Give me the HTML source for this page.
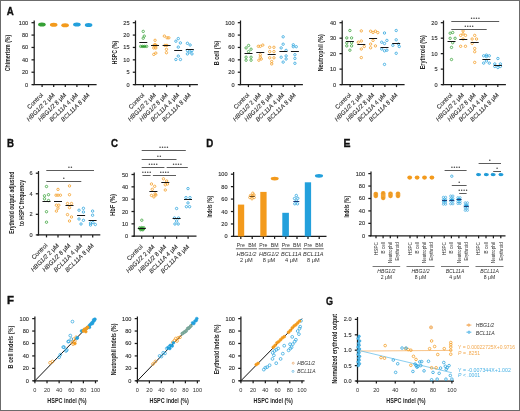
<!DOCTYPE html>
<html><head><meta charset="utf-8"><style>
html,body{margin:0;padding:0;background:#fff;width:520px;height:411px;overflow:hidden}
svg{display:block;will-change:transform}
text{font-family:"Liberation Sans",sans-serif}
</style></head><body>
<svg width="520" height="411" viewBox="0 0 520 411">
<rect x="0" y="0" width="520" height="411" fill="#fff"/>
<text x="6.8" y="14.6" font-size="10.6" font-weight="bold" fill="#111" stroke="#111" stroke-width="0.35" textLength="7.0" lengthAdjust="spacingAndGlyphs">A</text>
<line x1="34.2" y1="20.5" x2="34.2" y2="85.1" stroke="#1c1c1c" stroke-width="1.25"/>
<line x1="31.5" y1="84.6" x2="34.2" y2="84.6" stroke="#1c1c1c" stroke-width="1.25"/>
<text x="28.2" y="86.6" font-size="5.6" text-anchor="end" fill="#2e2e2e" stroke="#2e2e2e" stroke-width="0.12">0</text>
<line x1="31.5" y1="72.22" x2="34.2" y2="72.22" stroke="#1c1c1c" stroke-width="1.25"/>
<text x="28.2" y="74.22" font-size="5.6" text-anchor="end" fill="#2e2e2e" stroke="#2e2e2e" stroke-width="0.12">20</text>
<line x1="31.5" y1="59.84" x2="34.2" y2="59.84" stroke="#1c1c1c" stroke-width="1.25"/>
<text x="28.2" y="61.84" font-size="5.6" text-anchor="end" fill="#2e2e2e" stroke="#2e2e2e" stroke-width="0.12">40</text>
<line x1="31.5" y1="47.46" x2="34.2" y2="47.46" stroke="#1c1c1c" stroke-width="1.25"/>
<text x="28.2" y="49.46" font-size="5.6" text-anchor="end" fill="#2e2e2e" stroke="#2e2e2e" stroke-width="0.12">60</text>
<line x1="31.5" y1="35.08" x2="34.2" y2="35.08" stroke="#1c1c1c" stroke-width="1.25"/>
<text x="28.2" y="37.08" font-size="5.6" text-anchor="end" fill="#2e2e2e" stroke="#2e2e2e" stroke-width="0.12">80</text>
<line x1="31.5" y1="22.7" x2="34.2" y2="22.7" stroke="#1c1c1c" stroke-width="1.25"/>
<text x="28.2" y="24.7" font-size="5.6" text-anchor="end" fill="#2e2e2e" stroke="#2e2e2e" stroke-width="0.12">100</text>
<line x1="32.7" y1="84.6" x2="96.6" y2="84.6" stroke="#1c1c1c" stroke-width="1.25"/>
<line x1="42.1" y1="84.6" x2="42.1" y2="87.1" stroke="#1c1c1c" stroke-width="1.25"/>
<line x1="53.7" y1="84.6" x2="53.7" y2="87.1" stroke="#1c1c1c" stroke-width="1.25"/>
<line x1="65.3" y1="84.6" x2="65.3" y2="87.1" stroke="#1c1c1c" stroke-width="1.25"/>
<line x1="76.9" y1="84.6" x2="76.9" y2="87.1" stroke="#1c1c1c" stroke-width="1.25"/>
<line x1="88.5" y1="84.6" x2="88.5" y2="87.1" stroke="#1c1c1c" stroke-width="1.25"/>
<text transform="translate(43.5,95.5) rotate(-45)" font-size="6.1" text-anchor="end" fill="#2a2a2a" stroke="#2a2a2a" stroke-width="0.1">Control</text>
<text transform="translate(55.1,95.5) rotate(-45)" font-size="6.1" text-anchor="end" fill="#2a2a2a" stroke="#2a2a2a" stroke-width="0.1"><tspan font-style="italic">HBG1/2</tspan> 2 μM</text>
<text transform="translate(66.7,95.5) rotate(-45)" font-size="6.1" text-anchor="end" fill="#2a2a2a" stroke="#2a2a2a" stroke-width="0.1"><tspan font-style="italic">HBG1/2</tspan> 8 μM</text>
<text transform="translate(78.3,95.5) rotate(-45)" font-size="6.1" text-anchor="end" fill="#2a2a2a" stroke="#2a2a2a" stroke-width="0.1"><tspan font-style="italic">BCL11A</tspan> 4 μM</text>
<text transform="translate(89.9,95.5) rotate(-45)" font-size="6.1" text-anchor="end" fill="#2a2a2a" stroke="#2a2a2a" stroke-width="0.1"><tspan font-style="italic">BCL11A</tspan> 8 μM</text>
<line x1="135.5" y1="20.5" x2="135.5" y2="85.1" stroke="#1c1c1c" stroke-width="1.25"/>
<line x1="132.8" y1="84.6" x2="135.5" y2="84.6" stroke="#1c1c1c" stroke-width="1.25"/>
<text x="129.5" y="86.6" font-size="5.6" text-anchor="end" fill="#2e2e2e" stroke="#2e2e2e" stroke-width="0.12">0</text>
<line x1="132.8" y1="72.22" x2="135.5" y2="72.22" stroke="#1c1c1c" stroke-width="1.25"/>
<text x="129.5" y="74.22" font-size="5.6" text-anchor="end" fill="#2e2e2e" stroke="#2e2e2e" stroke-width="0.12">5</text>
<line x1="132.8" y1="59.84" x2="135.5" y2="59.84" stroke="#1c1c1c" stroke-width="1.25"/>
<text x="129.5" y="61.84" font-size="5.6" text-anchor="end" fill="#2e2e2e" stroke="#2e2e2e" stroke-width="0.12">10</text>
<line x1="132.8" y1="47.46" x2="135.5" y2="47.46" stroke="#1c1c1c" stroke-width="1.25"/>
<text x="129.5" y="49.46" font-size="5.6" text-anchor="end" fill="#2e2e2e" stroke="#2e2e2e" stroke-width="0.12">15</text>
<line x1="132.8" y1="35.08" x2="135.5" y2="35.08" stroke="#1c1c1c" stroke-width="1.25"/>
<text x="129.5" y="37.08" font-size="5.6" text-anchor="end" fill="#2e2e2e" stroke="#2e2e2e" stroke-width="0.12">20</text>
<line x1="132.8" y1="22.7" x2="135.5" y2="22.7" stroke="#1c1c1c" stroke-width="1.25"/>
<text x="129.5" y="24.7" font-size="5.6" text-anchor="end" fill="#2e2e2e" stroke="#2e2e2e" stroke-width="0.12">25</text>
<line x1="134" y1="84.6" x2="197.9" y2="84.6" stroke="#1c1c1c" stroke-width="1.25"/>
<line x1="143.4" y1="84.6" x2="143.4" y2="87.1" stroke="#1c1c1c" stroke-width="1.25"/>
<line x1="155" y1="84.6" x2="155" y2="87.1" stroke="#1c1c1c" stroke-width="1.25"/>
<line x1="166.6" y1="84.6" x2="166.6" y2="87.1" stroke="#1c1c1c" stroke-width="1.25"/>
<line x1="178.2" y1="84.6" x2="178.2" y2="87.1" stroke="#1c1c1c" stroke-width="1.25"/>
<line x1="189.8" y1="84.6" x2="189.8" y2="87.1" stroke="#1c1c1c" stroke-width="1.25"/>
<text transform="translate(144.8,95.5) rotate(-45)" font-size="6.1" text-anchor="end" fill="#2a2a2a" stroke="#2a2a2a" stroke-width="0.1">Control</text>
<text transform="translate(156.4,95.5) rotate(-45)" font-size="6.1" text-anchor="end" fill="#2a2a2a" stroke="#2a2a2a" stroke-width="0.1"><tspan font-style="italic">HBG1/2</tspan> 2 μM</text>
<text transform="translate(168,95.5) rotate(-45)" font-size="6.1" text-anchor="end" fill="#2a2a2a" stroke="#2a2a2a" stroke-width="0.1"><tspan font-style="italic">HBG1/2</tspan> 8 μM</text>
<text transform="translate(179.6,95.5) rotate(-45)" font-size="6.1" text-anchor="end" fill="#2a2a2a" stroke="#2a2a2a" stroke-width="0.1"><tspan font-style="italic">BCL11A</tspan> 4 μM</text>
<text transform="translate(191.2,95.5) rotate(-45)" font-size="6.1" text-anchor="end" fill="#2a2a2a" stroke="#2a2a2a" stroke-width="0.1"><tspan font-style="italic">BCL11A</tspan> 8 μM</text>
<line x1="240.5" y1="20.5" x2="240.5" y2="85.1" stroke="#1c1c1c" stroke-width="1.25"/>
<line x1="237.8" y1="84.6" x2="240.5" y2="84.6" stroke="#1c1c1c" stroke-width="1.25"/>
<text x="234.5" y="86.6" font-size="5.6" text-anchor="end" fill="#2e2e2e" stroke="#2e2e2e" stroke-width="0.12">0</text>
<line x1="237.8" y1="72.22" x2="240.5" y2="72.22" stroke="#1c1c1c" stroke-width="1.25"/>
<text x="234.5" y="74.22" font-size="5.6" text-anchor="end" fill="#2e2e2e" stroke="#2e2e2e" stroke-width="0.12">20</text>
<line x1="237.8" y1="59.84" x2="240.5" y2="59.84" stroke="#1c1c1c" stroke-width="1.25"/>
<text x="234.5" y="61.84" font-size="5.6" text-anchor="end" fill="#2e2e2e" stroke="#2e2e2e" stroke-width="0.12">40</text>
<line x1="237.8" y1="47.46" x2="240.5" y2="47.46" stroke="#1c1c1c" stroke-width="1.25"/>
<text x="234.5" y="49.46" font-size="5.6" text-anchor="end" fill="#2e2e2e" stroke="#2e2e2e" stroke-width="0.12">60</text>
<line x1="237.8" y1="35.08" x2="240.5" y2="35.08" stroke="#1c1c1c" stroke-width="1.25"/>
<text x="234.5" y="37.08" font-size="5.6" text-anchor="end" fill="#2e2e2e" stroke="#2e2e2e" stroke-width="0.12">80</text>
<line x1="237.8" y1="22.7" x2="240.5" y2="22.7" stroke="#1c1c1c" stroke-width="1.25"/>
<text x="234.5" y="24.7" font-size="5.6" text-anchor="end" fill="#2e2e2e" stroke="#2e2e2e" stroke-width="0.12">100</text>
<line x1="239" y1="84.6" x2="302.9" y2="84.6" stroke="#1c1c1c" stroke-width="1.25"/>
<line x1="248.4" y1="84.6" x2="248.4" y2="87.1" stroke="#1c1c1c" stroke-width="1.25"/>
<line x1="260" y1="84.6" x2="260" y2="87.1" stroke="#1c1c1c" stroke-width="1.25"/>
<line x1="271.6" y1="84.6" x2="271.6" y2="87.1" stroke="#1c1c1c" stroke-width="1.25"/>
<line x1="283.2" y1="84.6" x2="283.2" y2="87.1" stroke="#1c1c1c" stroke-width="1.25"/>
<line x1="294.8" y1="84.6" x2="294.8" y2="87.1" stroke="#1c1c1c" stroke-width="1.25"/>
<text transform="translate(249.8,95.5) rotate(-45)" font-size="6.1" text-anchor="end" fill="#2a2a2a" stroke="#2a2a2a" stroke-width="0.1">Control</text>
<text transform="translate(261.4,95.5) rotate(-45)" font-size="6.1" text-anchor="end" fill="#2a2a2a" stroke="#2a2a2a" stroke-width="0.1"><tspan font-style="italic">HBG1/2</tspan> 2 μM</text>
<text transform="translate(273,95.5) rotate(-45)" font-size="6.1" text-anchor="end" fill="#2a2a2a" stroke="#2a2a2a" stroke-width="0.1"><tspan font-style="italic">HBG1/2</tspan> 8 μM</text>
<text transform="translate(284.6,95.5) rotate(-45)" font-size="6.1" text-anchor="end" fill="#2a2a2a" stroke="#2a2a2a" stroke-width="0.1"><tspan font-style="italic">BCL11A</tspan> 4 μM</text>
<text transform="translate(296.2,95.5) rotate(-45)" font-size="6.1" text-anchor="end" fill="#2a2a2a" stroke="#2a2a2a" stroke-width="0.1"><tspan font-style="italic">BCL11A</tspan> 8 μM</text>
<line x1="342.2" y1="20.5" x2="342.2" y2="85.1" stroke="#1c1c1c" stroke-width="1.25"/>
<line x1="339.5" y1="84.6" x2="342.2" y2="84.6" stroke="#1c1c1c" stroke-width="1.25"/>
<text x="336.2" y="86.6" font-size="5.6" text-anchor="end" fill="#2e2e2e" stroke="#2e2e2e" stroke-width="0.12">0</text>
<line x1="339.5" y1="69.12" x2="342.2" y2="69.12" stroke="#1c1c1c" stroke-width="1.25"/>
<text x="336.2" y="71.12" font-size="5.6" text-anchor="end" fill="#2e2e2e" stroke="#2e2e2e" stroke-width="0.12">10</text>
<line x1="339.5" y1="53.65" x2="342.2" y2="53.65" stroke="#1c1c1c" stroke-width="1.25"/>
<text x="336.2" y="55.65" font-size="5.6" text-anchor="end" fill="#2e2e2e" stroke="#2e2e2e" stroke-width="0.12">20</text>
<line x1="339.5" y1="38.17" x2="342.2" y2="38.17" stroke="#1c1c1c" stroke-width="1.25"/>
<text x="336.2" y="40.17" font-size="5.6" text-anchor="end" fill="#2e2e2e" stroke="#2e2e2e" stroke-width="0.12">30</text>
<line x1="339.5" y1="22.7" x2="342.2" y2="22.7" stroke="#1c1c1c" stroke-width="1.25"/>
<text x="336.2" y="24.7" font-size="5.6" text-anchor="end" fill="#2e2e2e" stroke="#2e2e2e" stroke-width="0.12">40</text>
<line x1="340.7" y1="84.6" x2="404.6" y2="84.6" stroke="#1c1c1c" stroke-width="1.25"/>
<line x1="350.1" y1="84.6" x2="350.1" y2="87.1" stroke="#1c1c1c" stroke-width="1.25"/>
<line x1="361.7" y1="84.6" x2="361.7" y2="87.1" stroke="#1c1c1c" stroke-width="1.25"/>
<line x1="373.3" y1="84.6" x2="373.3" y2="87.1" stroke="#1c1c1c" stroke-width="1.25"/>
<line x1="384.9" y1="84.6" x2="384.9" y2="87.1" stroke="#1c1c1c" stroke-width="1.25"/>
<line x1="396.5" y1="84.6" x2="396.5" y2="87.1" stroke="#1c1c1c" stroke-width="1.25"/>
<text transform="translate(351.5,95.5) rotate(-45)" font-size="6.1" text-anchor="end" fill="#2a2a2a" stroke="#2a2a2a" stroke-width="0.1">Control</text>
<text transform="translate(363.1,95.5) rotate(-45)" font-size="6.1" text-anchor="end" fill="#2a2a2a" stroke="#2a2a2a" stroke-width="0.1"><tspan font-style="italic">HBG1/2</tspan> 2 μM</text>
<text transform="translate(374.7,95.5) rotate(-45)" font-size="6.1" text-anchor="end" fill="#2a2a2a" stroke="#2a2a2a" stroke-width="0.1"><tspan font-style="italic">HBG1/2</tspan> 8 μM</text>
<text transform="translate(386.3,95.5) rotate(-45)" font-size="6.1" text-anchor="end" fill="#2a2a2a" stroke="#2a2a2a" stroke-width="0.1"><tspan font-style="italic">BCL11A</tspan> 4 μM</text>
<text transform="translate(397.9,95.5) rotate(-45)" font-size="6.1" text-anchor="end" fill="#2a2a2a" stroke="#2a2a2a" stroke-width="0.1"><tspan font-style="italic">BCL11A</tspan> 8 μM</text>
<line x1="443.5" y1="20.5" x2="443.5" y2="85.1" stroke="#1c1c1c" stroke-width="1.25"/>
<line x1="440.8" y1="84.6" x2="443.5" y2="84.6" stroke="#1c1c1c" stroke-width="1.25"/>
<text x="437.5" y="86.6" font-size="5.6" text-anchor="end" fill="#2e2e2e" stroke="#2e2e2e" stroke-width="0.12">0</text>
<line x1="440.8" y1="69.12" x2="443.5" y2="69.12" stroke="#1c1c1c" stroke-width="1.25"/>
<text x="437.5" y="71.12" font-size="5.6" text-anchor="end" fill="#2e2e2e" stroke="#2e2e2e" stroke-width="0.12">5</text>
<line x1="440.8" y1="53.65" x2="443.5" y2="53.65" stroke="#1c1c1c" stroke-width="1.25"/>
<text x="437.5" y="55.65" font-size="5.6" text-anchor="end" fill="#2e2e2e" stroke="#2e2e2e" stroke-width="0.12">10</text>
<line x1="440.8" y1="38.17" x2="443.5" y2="38.17" stroke="#1c1c1c" stroke-width="1.25"/>
<text x="437.5" y="40.17" font-size="5.6" text-anchor="end" fill="#2e2e2e" stroke="#2e2e2e" stroke-width="0.12">15</text>
<line x1="440.8" y1="22.7" x2="443.5" y2="22.7" stroke="#1c1c1c" stroke-width="1.25"/>
<text x="437.5" y="24.7" font-size="5.6" text-anchor="end" fill="#2e2e2e" stroke="#2e2e2e" stroke-width="0.12">20</text>
<line x1="442" y1="84.6" x2="505.9" y2="84.6" stroke="#1c1c1c" stroke-width="1.25"/>
<line x1="451.4" y1="84.6" x2="451.4" y2="87.1" stroke="#1c1c1c" stroke-width="1.25"/>
<line x1="463" y1="84.6" x2="463" y2="87.1" stroke="#1c1c1c" stroke-width="1.25"/>
<line x1="474.6" y1="84.6" x2="474.6" y2="87.1" stroke="#1c1c1c" stroke-width="1.25"/>
<line x1="486.2" y1="84.6" x2="486.2" y2="87.1" stroke="#1c1c1c" stroke-width="1.25"/>
<line x1="497.8" y1="84.6" x2="497.8" y2="87.1" stroke="#1c1c1c" stroke-width="1.25"/>
<text transform="translate(452.8,95.5) rotate(-45)" font-size="6.1" text-anchor="end" fill="#2a2a2a" stroke="#2a2a2a" stroke-width="0.1">Control</text>
<text transform="translate(464.4,95.5) rotate(-45)" font-size="6.1" text-anchor="end" fill="#2a2a2a" stroke="#2a2a2a" stroke-width="0.1"><tspan font-style="italic">HBG1/2</tspan> 2 μM</text>
<text transform="translate(476,95.5) rotate(-45)" font-size="6.1" text-anchor="end" fill="#2a2a2a" stroke="#2a2a2a" stroke-width="0.1"><tspan font-style="italic">HBG1/2</tspan> 8 μM</text>
<text transform="translate(487.6,95.5) rotate(-45)" font-size="6.1" text-anchor="end" fill="#2a2a2a" stroke="#2a2a2a" stroke-width="0.1"><tspan font-style="italic">BCL11A</tspan> 4 μM</text>
<text transform="translate(499.2,95.5) rotate(-45)" font-size="6.1" text-anchor="end" fill="#2a2a2a" stroke="#2a2a2a" stroke-width="0.1"><tspan font-style="italic">BCL11A</tspan> 8 μM</text>
<text transform="translate(10.41,53) rotate(-90)" x="0" y="0" font-size="6.3" font-weight="bold" text-anchor="middle" fill="#222" textLength="36.5" lengthAdjust="spacingAndGlyphs">Chimerism (%)</text>
<text transform="translate(116.76,52.5) rotate(-90)" x="0" y="0" font-size="6.3" font-weight="bold" text-anchor="middle" fill="#222" textLength="23.4" lengthAdjust="spacingAndGlyphs">HSPC (%)</text>
<text transform="translate(218.76,53) rotate(-90)" x="0" y="0" font-size="6.3" font-weight="bold" text-anchor="middle" fill="#222" textLength="24.7" lengthAdjust="spacingAndGlyphs">B cell (%)</text>
<text transform="translate(322.96,52.8) rotate(-90)" x="0" y="0" font-size="6.3" font-weight="bold" text-anchor="middle" fill="#222" textLength="37" lengthAdjust="spacingAndGlyphs">Neutrophil (%)</text>
<text transform="translate(425.06,52.3) rotate(-90)" x="0" y="0" font-size="6.3" font-weight="bold" text-anchor="middle" fill="#222" textLength="34" lengthAdjust="spacingAndGlyphs">Erythroid (%)</text>
<ellipse cx="41.9" cy="24.5" rx="3.8" ry="2.0" fill="#35a035"/>
<ellipse cx="53.7" cy="24.7" rx="3.8" ry="2.0" fill="#f39a1c"/>
<ellipse cx="65.1" cy="25.2" rx="3.8" ry="2.0" fill="#f39a1c"/>
<ellipse cx="76.9" cy="24.5" rx="3.8" ry="2.0" fill="#23a0dc"/>
<ellipse cx="88.6" cy="25.0" rx="3.8" ry="2.0" fill="#23a0dc"/>
<circle cx="143.22" cy="31.4" r="1.2" fill="none" stroke="#35a035" stroke-width="0.75"/>
<circle cx="144.26" cy="36.1" r="1.2" fill="none" stroke="#35a035" stroke-width="0.75"/>
<circle cx="143.22" cy="38.2" r="1.2" fill="none" stroke="#35a035" stroke-width="0.75"/>
<circle cx="140.66" cy="46.4" r="1.2" fill="none" stroke="#35a035" stroke-width="0.75"/>
<circle cx="142.66" cy="46.4" r="1.2" fill="none" stroke="#35a035" stroke-width="0.75"/>
<circle cx="144.66" cy="46.4" r="1.2" fill="none" stroke="#35a035" stroke-width="0.75"/>
<circle cx="146.66" cy="46.4" r="1.2" fill="none" stroke="#35a035" stroke-width="0.75"/>
<ellipse cx="143.5" cy="46.4" rx="3.2" ry="1.0" fill="#35a035"/>
<line x1="139.3" y1="42.5" x2="147.3" y2="42.5" stroke="#151515" stroke-width="1.0"/>
<circle cx="155.08" cy="40.3" r="1.2" fill="none" stroke="#f39a1c" stroke-width="0.75"/>
<circle cx="153.8" cy="45.5" r="1.2" fill="none" stroke="#f39a1c" stroke-width="0.75"/>
<circle cx="156.2" cy="45.5" r="1.2" fill="none" stroke="#f39a1c" stroke-width="0.75"/>
<circle cx="155" cy="44.5" r="1.2" fill="none" stroke="#f39a1c" stroke-width="0.75"/>
<circle cx="153.8" cy="48" r="1.2" fill="none" stroke="#f39a1c" stroke-width="0.75"/>
<circle cx="155.8" cy="48" r="1.2" fill="none" stroke="#f39a1c" stroke-width="0.75"/>
<circle cx="153.8" cy="54.4" r="1.2" fill="none" stroke="#f39a1c" stroke-width="0.75"/>
<circle cx="155.8" cy="53.1" r="1.2" fill="none" stroke="#f39a1c" stroke-width="0.75"/>
<line x1="151" y1="45.5" x2="159" y2="45.5" stroke="#151515" stroke-width="1.0"/>
<circle cx="164.36" cy="36.1" r="1.2" fill="none" stroke="#f39a1c" stroke-width="0.75"/>
<circle cx="167.08" cy="37.8" r="1.2" fill="none" stroke="#f39a1c" stroke-width="0.75"/>
<circle cx="168.84" cy="37.8" r="1.2" fill="none" stroke="#f39a1c" stroke-width="0.75"/>
<circle cx="166.92" cy="45.4" r="1.2" fill="none" stroke="#f39a1c" stroke-width="0.75"/>
<circle cx="164.92" cy="45.4" r="1.2" fill="none" stroke="#f39a1c" stroke-width="0.75"/>
<circle cx="166.44" cy="49.3" r="1.2" fill="none" stroke="#f39a1c" stroke-width="0.75"/>
<circle cx="166.44" cy="52.7" r="1.2" fill="none" stroke="#f39a1c" stroke-width="0.75"/>
<line x1="162.6" y1="45.5" x2="170.6" y2="45.5" stroke="#151515" stroke-width="1.0"/>
<circle cx="175.88" cy="41.2" r="1.2" fill="none" stroke="#23a0dc" stroke-width="0.75"/>
<circle cx="178.28" cy="38.6" r="1.2" fill="none" stroke="#23a0dc" stroke-width="0.75"/>
<circle cx="180.36" cy="42.9" r="1.2" fill="none" stroke="#23a0dc" stroke-width="0.75"/>
<circle cx="178.28" cy="47.1" r="1.2" fill="none" stroke="#23a0dc" stroke-width="0.75"/>
<circle cx="178.28" cy="56.1" r="1.2" fill="none" stroke="#23a0dc" stroke-width="0.75"/>
<circle cx="175.88" cy="59.5" r="1.2" fill="none" stroke="#23a0dc" stroke-width="0.75"/>
<circle cx="180.44" cy="59.5" r="1.2" fill="none" stroke="#23a0dc" stroke-width="0.75"/>
<line x1="174.2" y1="50.5" x2="182.2" y2="50.5" stroke="#151515" stroke-width="1.0"/>
<circle cx="187.4" cy="43.3" r="1.2" fill="none" stroke="#23a0dc" stroke-width="0.75"/>
<circle cx="190.12" cy="45" r="1.2" fill="none" stroke="#23a0dc" stroke-width="0.75"/>
<circle cx="187.4" cy="50.5" r="1.2" fill="none" stroke="#23a0dc" stroke-width="0.75"/>
<circle cx="191.96" cy="50.5" r="1.2" fill="none" stroke="#23a0dc" stroke-width="0.75"/>
<circle cx="187.4" cy="53.9" r="1.2" fill="none" stroke="#23a0dc" stroke-width="0.75"/>
<circle cx="191.96" cy="53.9" r="1.2" fill="none" stroke="#23a0dc" stroke-width="0.75"/>
<circle cx="189.8" cy="52" r="1.2" fill="none" stroke="#23a0dc" stroke-width="0.75"/>
<line x1="185.8" y1="49.5" x2="193.8" y2="49.5" stroke="#151515" stroke-width="1.0"/>
<circle cx="246.1" cy="47.9" r="1.2" fill="none" stroke="#35a035" stroke-width="0.75"/>
<circle cx="248.58" cy="45.5" r="1.2" fill="none" stroke="#35a035" stroke-width="0.75"/>
<circle cx="251.06" cy="49.2" r="1.2" fill="none" stroke="#35a035" stroke-width="0.75"/>
<circle cx="248.58" cy="51.6" r="1.2" fill="none" stroke="#35a035" stroke-width="0.75"/>
<circle cx="246.1" cy="57.2" r="1.2" fill="none" stroke="#35a035" stroke-width="0.75"/>
<circle cx="251.06" cy="57.2" r="1.2" fill="none" stroke="#35a035" stroke-width="0.75"/>
<circle cx="246.1" cy="60.2" r="1.2" fill="none" stroke="#35a035" stroke-width="0.75"/>
<circle cx="251.06" cy="60.2" r="1.2" fill="none" stroke="#35a035" stroke-width="0.75"/>
<line x1="244.5" y1="53.5" x2="252.5" y2="53.5" stroke="#151515" stroke-width="1.0"/>
<circle cx="258.3" cy="46.3" r="1.2" fill="none" stroke="#f39a1c" stroke-width="0.75"/>
<circle cx="260.3" cy="46.3" r="1.2" fill="none" stroke="#f39a1c" stroke-width="0.75"/>
<circle cx="262.78" cy="45.1" r="1.2" fill="none" stroke="#f39a1c" stroke-width="0.75"/>
<circle cx="260.3" cy="54.7" r="1.2" fill="none" stroke="#f39a1c" stroke-width="0.75"/>
<circle cx="260.3" cy="57.2" r="1.2" fill="none" stroke="#f39a1c" stroke-width="0.75"/>
<circle cx="258.86" cy="60.2" r="1.2" fill="none" stroke="#f39a1c" stroke-width="0.75"/>
<circle cx="261.26" cy="59" r="1.2" fill="none" stroke="#f39a1c" stroke-width="0.75"/>
<line x1="256.3" y1="52.5" x2="264.3" y2="52.5" stroke="#151515" stroke-width="1.0"/>
<circle cx="269.7" cy="47.3" r="1.2" fill="none" stroke="#f39a1c" stroke-width="0.75"/>
<circle cx="273.94" cy="47.3" r="1.2" fill="none" stroke="#f39a1c" stroke-width="0.75"/>
<circle cx="269.7" cy="51.6" r="1.2" fill="none" stroke="#f39a1c" stroke-width="0.75"/>
<circle cx="273.94" cy="51.6" r="1.2" fill="none" stroke="#f39a1c" stroke-width="0.75"/>
<circle cx="269.7" cy="57.8" r="1.2" fill="none" stroke="#f39a1c" stroke-width="0.75"/>
<circle cx="273.94" cy="57.8" r="1.2" fill="none" stroke="#f39a1c" stroke-width="0.75"/>
<circle cx="271.7" cy="61.5" r="1.2" fill="none" stroke="#f39a1c" stroke-width="0.75"/>
<circle cx="271.7" cy="63.9" r="1.2" fill="none" stroke="#f39a1c" stroke-width="0.75"/>
<line x1="267.7" y1="54.5" x2="275.7" y2="54.5" stroke="#151515" stroke-width="1.0"/>
<circle cx="283.16" cy="36.8" r="1.2" fill="none" stroke="#23a0dc" stroke-width="0.75"/>
<circle cx="283.16" cy="44.2" r="1.2" fill="none" stroke="#23a0dc" stroke-width="0.75"/>
<circle cx="281.16" cy="47.9" r="1.2" fill="none" stroke="#23a0dc" stroke-width="0.75"/>
<circle cx="286.12" cy="50.4" r="1.2" fill="none" stroke="#23a0dc" stroke-width="0.75"/>
<circle cx="281.16" cy="57.2" r="1.2" fill="none" stroke="#23a0dc" stroke-width="0.75"/>
<circle cx="286.12" cy="55.9" r="1.2" fill="none" stroke="#23a0dc" stroke-width="0.75"/>
<circle cx="286.12" cy="59" r="1.2" fill="none" stroke="#23a0dc" stroke-width="0.75"/>
<circle cx="283.16" cy="62.1" r="1.2" fill="none" stroke="#23a0dc" stroke-width="0.75"/>
<line x1="279.4" y1="51.5" x2="287.4" y2="51.5" stroke="#151515" stroke-width="1.0"/>
<circle cx="293.3" cy="44.8" r="1.2" fill="none" stroke="#23a0dc" stroke-width="0.75"/>
<circle cx="296.26" cy="46.7" r="1.2" fill="none" stroke="#23a0dc" stroke-width="0.75"/>
<circle cx="293.3" cy="46.7" r="1.2" fill="none" stroke="#23a0dc" stroke-width="0.75"/>
<circle cx="294.9" cy="54.7" r="1.2" fill="none" stroke="#23a0dc" stroke-width="0.75"/>
<circle cx="294.9" cy="58.4" r="1.2" fill="none" stroke="#23a0dc" stroke-width="0.75"/>
<circle cx="294.9" cy="63.3" r="1.2" fill="none" stroke="#23a0dc" stroke-width="0.75"/>
<line x1="290.9" y1="51.5" x2="298.9" y2="51.5" stroke="#151515" stroke-width="1.0"/>
<circle cx="349.9" cy="30.5" r="1.2" fill="none" stroke="#35a035" stroke-width="0.75"/>
<circle cx="346.78" cy="37.9" r="1.2" fill="none" stroke="#35a035" stroke-width="0.75"/>
<circle cx="351.58" cy="37.9" r="1.2" fill="none" stroke="#35a035" stroke-width="0.75"/>
<circle cx="346.78" cy="42.8" r="1.2" fill="none" stroke="#35a035" stroke-width="0.75"/>
<circle cx="351.58" cy="42.8" r="1.2" fill="none" stroke="#35a035" stroke-width="0.75"/>
<circle cx="346.78" cy="45.9" r="1.2" fill="none" stroke="#35a035" stroke-width="0.75"/>
<circle cx="351.58" cy="45.9" r="1.2" fill="none" stroke="#35a035" stroke-width="0.75"/>
<circle cx="349.9" cy="50.2" r="1.2" fill="none" stroke="#35a035" stroke-width="0.75"/>
<line x1="345.9" y1="41.5" x2="353.9" y2="41.5" stroke="#151515" stroke-width="1.0"/>
<circle cx="361.3" cy="30.9" r="1.2" fill="none" stroke="#f39a1c" stroke-width="0.75"/>
<circle cx="358.26" cy="42.2" r="1.2" fill="none" stroke="#f39a1c" stroke-width="0.75"/>
<circle cx="361.3" cy="41" r="1.2" fill="none" stroke="#f39a1c" stroke-width="0.75"/>
<circle cx="364.26" cy="46.5" r="1.2" fill="none" stroke="#f39a1c" stroke-width="0.75"/>
<circle cx="361.3" cy="49" r="1.2" fill="none" stroke="#f39a1c" stroke-width="0.75"/>
<circle cx="361.3" cy="57.6" r="1.2" fill="none" stroke="#f39a1c" stroke-width="0.75"/>
<line x1="357.3" y1="44.5" x2="365.3" y2="44.5" stroke="#151515" stroke-width="1.0"/>
<circle cx="370.62" cy="31.2" r="1.2" fill="none" stroke="#f39a1c" stroke-width="0.75"/>
<circle cx="375.42" cy="31.2" r="1.2" fill="none" stroke="#f39a1c" stroke-width="0.75"/>
<circle cx="373.02" cy="32.4" r="1.2" fill="none" stroke="#f39a1c" stroke-width="0.75"/>
<circle cx="377.82" cy="32.6" r="1.2" fill="none" stroke="#f39a1c" stroke-width="0.75"/>
<circle cx="373.02" cy="40.4" r="1.2" fill="none" stroke="#f39a1c" stroke-width="0.75"/>
<circle cx="370.62" cy="44.1" r="1.2" fill="none" stroke="#f39a1c" stroke-width="0.75"/>
<circle cx="375.42" cy="45.9" r="1.2" fill="none" stroke="#f39a1c" stroke-width="0.75"/>
<circle cx="370.62" cy="47.8" r="1.2" fill="none" stroke="#f39a1c" stroke-width="0.75"/>
<line x1="369.1" y1="38.5" x2="377.1" y2="38.5" stroke="#151515" stroke-width="1.0"/>
<circle cx="384.5" cy="33" r="1.2" fill="none" stroke="#23a0dc" stroke-width="0.75"/>
<circle cx="386.9" cy="40.4" r="1.2" fill="none" stroke="#23a0dc" stroke-width="0.75"/>
<circle cx="381.7" cy="42.2" r="1.2" fill="none" stroke="#23a0dc" stroke-width="0.75"/>
<circle cx="384.5" cy="43.5" r="1.2" fill="none" stroke="#23a0dc" stroke-width="0.75"/>
<circle cx="381.7" cy="49" r="1.2" fill="none" stroke="#23a0dc" stroke-width="0.75"/>
<circle cx="386.9" cy="50.2" r="1.2" fill="none" stroke="#23a0dc" stroke-width="0.75"/>
<circle cx="384.5" cy="50.8" r="1.2" fill="none" stroke="#23a0dc" stroke-width="0.75"/>
<circle cx="384.5" cy="64.4" r="1.2" fill="none" stroke="#23a0dc" stroke-width="0.75"/>
<line x1="380.5" y1="47.5" x2="388.5" y2="47.5" stroke="#151515" stroke-width="1.0"/>
<circle cx="396.2" cy="30.5" r="1.2" fill="none" stroke="#23a0dc" stroke-width="0.75"/>
<circle cx="396.2" cy="39.8" r="1.2" fill="none" stroke="#23a0dc" stroke-width="0.75"/>
<circle cx="392.84" cy="45.3" r="1.2" fill="none" stroke="#23a0dc" stroke-width="0.75"/>
<circle cx="399.24" cy="46.5" r="1.2" fill="none" stroke="#23a0dc" stroke-width="0.75"/>
<circle cx="396.2" cy="53.3" r="1.2" fill="none" stroke="#23a0dc" stroke-width="0.75"/>
<circle cx="398.44" cy="44" r="1.2" fill="none" stroke="#23a0dc" stroke-width="0.75"/>
<line x1="392.2" y1="43.5" x2="400.2" y2="43.5" stroke="#151515" stroke-width="1.0"/>
<circle cx="450.14" cy="33.2" r="1.2" fill="none" stroke="#35a035" stroke-width="0.75"/>
<circle cx="452.7" cy="32.5" r="1.2" fill="none" stroke="#35a035" stroke-width="0.75"/>
<circle cx="450.14" cy="38.3" r="1.2" fill="none" stroke="#35a035" stroke-width="0.75"/>
<circle cx="455.1" cy="38.3" r="1.2" fill="none" stroke="#35a035" stroke-width="0.75"/>
<circle cx="452.7" cy="42.7" r="1.2" fill="none" stroke="#35a035" stroke-width="0.75"/>
<circle cx="451.5" cy="47.4" r="1.2" fill="none" stroke="#35a035" stroke-width="0.75"/>
<circle cx="451.5" cy="59.5" r="1.2" fill="none" stroke="#35a035" stroke-width="0.75"/>
<line x1="447.5" y1="41.5" x2="455.5" y2="41.5" stroke="#151515" stroke-width="1.0"/>
<circle cx="463.06" cy="31" r="1.2" fill="none" stroke="#f39a1c" stroke-width="0.75"/>
<circle cx="460.66" cy="35.4" r="1.2" fill="none" stroke="#f39a1c" stroke-width="0.75"/>
<circle cx="465.46" cy="35.4" r="1.2" fill="none" stroke="#f39a1c" stroke-width="0.75"/>
<circle cx="463.06" cy="33.9" r="1.2" fill="none" stroke="#f39a1c" stroke-width="0.75"/>
<circle cx="460.66" cy="46.3" r="1.2" fill="none" stroke="#f39a1c" stroke-width="0.75"/>
<circle cx="465.46" cy="46.3" r="1.2" fill="none" stroke="#f39a1c" stroke-width="0.75"/>
<circle cx="463.06" cy="39" r="1.2" fill="none" stroke="#f39a1c" stroke-width="0.75"/>
<line x1="459.3" y1="39.5" x2="467.3" y2="39.5" stroke="#151515" stroke-width="1.0"/>
<circle cx="474.7" cy="35.4" r="1.2" fill="none" stroke="#f39a1c" stroke-width="0.75"/>
<circle cx="472.14" cy="39" r="1.2" fill="none" stroke="#f39a1c" stroke-width="0.75"/>
<circle cx="476.54" cy="39" r="1.2" fill="none" stroke="#f39a1c" stroke-width="0.75"/>
<circle cx="474.7" cy="48.5" r="1.2" fill="none" stroke="#f39a1c" stroke-width="0.75"/>
<circle cx="474.7" cy="51.7" r="1.2" fill="none" stroke="#f39a1c" stroke-width="0.75"/>
<circle cx="474.7" cy="62.4" r="1.2" fill="none" stroke="#f39a1c" stroke-width="0.75"/>
<circle cx="472.14" cy="43.4" r="1.2" fill="none" stroke="#f39a1c" stroke-width="0.75"/>
<line x1="470.7" y1="42.5" x2="478.7" y2="42.5" stroke="#151515" stroke-width="1.0"/>
<circle cx="483.68" cy="55.8" r="1.2" fill="none" stroke="#23a0dc" stroke-width="0.75"/>
<circle cx="489.28" cy="55.8" r="1.2" fill="none" stroke="#23a0dc" stroke-width="0.75"/>
<circle cx="486.4" cy="56.6" r="1.2" fill="none" stroke="#23a0dc" stroke-width="0.75"/>
<circle cx="483.68" cy="63.1" r="1.2" fill="none" stroke="#23a0dc" stroke-width="0.75"/>
<circle cx="489.28" cy="63.1" r="1.2" fill="none" stroke="#23a0dc" stroke-width="0.75"/>
<circle cx="486.4" cy="55.1" r="1.2" fill="none" stroke="#23a0dc" stroke-width="0.75"/>
<circle cx="486.4" cy="61" r="1.2" fill="none" stroke="#23a0dc" stroke-width="0.75"/>
<line x1="482.4" y1="59.5" x2="490.4" y2="59.5" stroke="#151515" stroke-width="1.0"/>
<circle cx="497.9" cy="58.5" r="1.2" fill="none" stroke="#23a0dc" stroke-width="0.75"/>
<circle cx="494.78" cy="63.9" r="1.2" fill="none" stroke="#23a0dc" stroke-width="0.75"/>
<circle cx="500.38" cy="63.9" r="1.2" fill="none" stroke="#23a0dc" stroke-width="0.75"/>
<circle cx="497.9" cy="67.5" r="1.2" fill="none" stroke="#23a0dc" stroke-width="0.75"/>
<circle cx="494.78" cy="66.4" r="1.2" fill="none" stroke="#23a0dc" stroke-width="0.75"/>
<circle cx="500.38" cy="66.4" r="1.2" fill="none" stroke="#23a0dc" stroke-width="0.75"/>
<line x1="493.9" y1="65.5" x2="501.9" y2="65.5" stroke="#151515" stroke-width="1.0"/>
<line x1="451.3" y1="21.5" x2="499.2" y2="21.5" stroke="#5c5c5c" stroke-width="1.0"/>
<circle cx="471.57" cy="18.3" r="0.78" fill="#444"/>
<circle cx="474.02" cy="18.3" r="0.78" fill="#444"/>
<circle cx="476.48" cy="18.3" r="0.78" fill="#444"/>
<circle cx="478.93" cy="18.3" r="0.78" fill="#444"/>
<line x1="451.3" y1="29.5" x2="486.7" y2="29.5" stroke="#5c5c5c" stroke-width="1.0"/>
<circle cx="465.32" cy="26.3" r="0.78" fill="#444"/>
<circle cx="467.77" cy="26.3" r="0.78" fill="#444"/>
<circle cx="470.23" cy="26.3" r="0.78" fill="#444"/>
<circle cx="472.68" cy="26.3" r="0.78" fill="#444"/>
<text x="7" y="147" font-size="10.6" font-weight="bold" fill="#111" stroke="#111" stroke-width="0.35" textLength="7.0" lengthAdjust="spacingAndGlyphs">B</text>
<line x1="38.5" y1="171" x2="38.5" y2="235.4" stroke="#1c1c1c" stroke-width="1.25"/>
<line x1="35.8" y1="234.9" x2="38.5" y2="234.9" stroke="#1c1c1c" stroke-width="1.25"/>
<text x="32.5" y="236.9" font-size="5.6" text-anchor="end" fill="#2e2e2e" stroke="#2e2e2e" stroke-width="0.12">0</text>
<line x1="35.8" y1="214.33" x2="38.5" y2="214.33" stroke="#1c1c1c" stroke-width="1.25"/>
<text x="32.5" y="216.33" font-size="5.6" text-anchor="end" fill="#2e2e2e" stroke="#2e2e2e" stroke-width="0.12">2</text>
<line x1="35.8" y1="193.77" x2="38.5" y2="193.77" stroke="#1c1c1c" stroke-width="1.25"/>
<text x="32.5" y="195.77" font-size="5.6" text-anchor="end" fill="#2e2e2e" stroke="#2e2e2e" stroke-width="0.12">4</text>
<line x1="35.8" y1="173.2" x2="38.5" y2="173.2" stroke="#1c1c1c" stroke-width="1.25"/>
<text x="32.5" y="175.2" font-size="5.6" text-anchor="end" fill="#2e2e2e" stroke="#2e2e2e" stroke-width="0.12">6</text>
<line x1="37" y1="234.9" x2="100.3" y2="234.9" stroke="#1c1c1c" stroke-width="1.25"/>
<line x1="46.5" y1="234.9" x2="46.5" y2="237.4" stroke="#1c1c1c" stroke-width="1.25"/>
<line x1="58" y1="234.9" x2="58" y2="237.4" stroke="#1c1c1c" stroke-width="1.25"/>
<line x1="69.5" y1="234.9" x2="69.5" y2="237.4" stroke="#1c1c1c" stroke-width="1.25"/>
<line x1="81.1" y1="234.9" x2="81.1" y2="237.4" stroke="#1c1c1c" stroke-width="1.25"/>
<line x1="92.7" y1="234.9" x2="92.7" y2="237.4" stroke="#1c1c1c" stroke-width="1.25"/>
<text transform="translate(47.9,245.9) rotate(-45)" font-size="6.1" text-anchor="end" fill="#2a2a2a" stroke="#2a2a2a" stroke-width="0.1">Control</text>
<text transform="translate(59.4,245.9) rotate(-45)" font-size="6.1" text-anchor="end" fill="#2a2a2a" stroke="#2a2a2a" stroke-width="0.1"><tspan font-style="italic">HBG1/2</tspan> 2 μM</text>
<text transform="translate(70.9,245.9) rotate(-45)" font-size="6.1" text-anchor="end" fill="#2a2a2a" stroke="#2a2a2a" stroke-width="0.1"><tspan font-style="italic">HBG1/2</tspan> 8 μM</text>
<text transform="translate(82.5,245.9) rotate(-45)" font-size="6.1" text-anchor="end" fill="#2a2a2a" stroke="#2a2a2a" stroke-width="0.1"><tspan font-style="italic">BCL11A</tspan> 4 μM</text>
<text transform="translate(94.1,245.9) rotate(-45)" font-size="6.1" text-anchor="end" fill="#2a2a2a" stroke="#2a2a2a" stroke-width="0.1"><tspan font-style="italic">BCL11A</tspan> 8 μM</text>
<text transform="translate(14.02,202.7) rotate(-90)" x="0" y="0" font-size="7.1" font-weight="bold" text-anchor="middle" fill="#222" textLength="62" lengthAdjust="spacingAndGlyphs">Erythroid output adjusted</text>
<text transform="translate(24.02,203) rotate(-90)" x="0" y="0" font-size="7.1" font-weight="bold" text-anchor="middle" fill="#222" textLength="45.9" lengthAdjust="spacingAndGlyphs">to HSPC frequency</text>
<circle cx="46.5" cy="186.5" r="1.2" fill="none" stroke="#35a035" stroke-width="0.75"/>
<circle cx="48.5" cy="194.7" r="1.2" fill="none" stroke="#35a035" stroke-width="0.75"/>
<circle cx="44.5" cy="195.8" r="1.2" fill="none" stroke="#35a035" stroke-width="0.75"/>
<circle cx="44.5" cy="198.8" r="1.2" fill="none" stroke="#35a035" stroke-width="0.75"/>
<circle cx="48.5" cy="200.5" r="1.2" fill="none" stroke="#35a035" stroke-width="0.75"/>
<circle cx="46.5" cy="211.7" r="1.2" fill="none" stroke="#35a035" stroke-width="0.75"/>
<circle cx="46.5" cy="222.2" r="1.2" fill="none" stroke="#35a035" stroke-width="0.75"/>
<line x1="42.5" y1="201.5" x2="50.5" y2="201.5" stroke="#151515" stroke-width="1.0"/>
<circle cx="58" cy="189.4" r="1.2" fill="none" stroke="#f39a1c" stroke-width="0.75"/>
<circle cx="56" cy="195.2" r="1.2" fill="none" stroke="#f39a1c" stroke-width="0.75"/>
<circle cx="58" cy="195.2" r="1.2" fill="none" stroke="#f39a1c" stroke-width="0.75"/>
<circle cx="60.4" cy="195.2" r="1.2" fill="none" stroke="#f39a1c" stroke-width="0.75"/>
<circle cx="56.4" cy="205.2" r="1.2" fill="none" stroke="#f39a1c" stroke-width="0.75"/>
<circle cx="58.8" cy="205.2" r="1.2" fill="none" stroke="#f39a1c" stroke-width="0.75"/>
<circle cx="58" cy="208.2" r="1.2" fill="none" stroke="#f39a1c" stroke-width="0.75"/>
<circle cx="56.4" cy="211.1" r="1.2" fill="none" stroke="#f39a1c" stroke-width="0.75"/>
<line x1="54" y1="201.5" x2="62" y2="201.5" stroke="#151515" stroke-width="1.0"/>
<circle cx="69.5" cy="185.9" r="1.2" fill="none" stroke="#f39a1c" stroke-width="0.75"/>
<circle cx="69.5" cy="194.7" r="1.2" fill="none" stroke="#f39a1c" stroke-width="0.75"/>
<circle cx="67.5" cy="203.5" r="1.2" fill="none" stroke="#f39a1c" stroke-width="0.75"/>
<circle cx="71.5" cy="203.5" r="1.2" fill="none" stroke="#f39a1c" stroke-width="0.75"/>
<circle cx="69.5" cy="207.6" r="1.2" fill="none" stroke="#f39a1c" stroke-width="0.75"/>
<circle cx="67.5" cy="214.6" r="1.2" fill="none" stroke="#f39a1c" stroke-width="0.75"/>
<circle cx="71.5" cy="217" r="1.2" fill="none" stroke="#f39a1c" stroke-width="0.75"/>
<circle cx="69.5" cy="221" r="1.2" fill="none" stroke="#f39a1c" stroke-width="0.75"/>
<line x1="65.5" y1="205.5" x2="73.5" y2="205.5" stroke="#151515" stroke-width="1.0"/>
<circle cx="79.02" cy="210.2" r="1.2" fill="none" stroke="#23a0dc" stroke-width="0.75"/>
<circle cx="83.42" cy="208.3" r="1.2" fill="none" stroke="#23a0dc" stroke-width="0.75"/>
<circle cx="83.42" cy="212" r="1.2" fill="none" stroke="#23a0dc" stroke-width="0.75"/>
<circle cx="79.02" cy="219" r="1.2" fill="none" stroke="#23a0dc" stroke-width="0.75"/>
<circle cx="83.42" cy="220.3" r="1.2" fill="none" stroke="#23a0dc" stroke-width="0.75"/>
<circle cx="81.02" cy="224" r="1.2" fill="none" stroke="#23a0dc" stroke-width="0.75"/>
<line x1="77.1" y1="215.5" x2="85.1" y2="215.5" stroke="#151515" stroke-width="1.0"/>
<circle cx="92.6" cy="211.1" r="1.2" fill="none" stroke="#23a0dc" stroke-width="0.75"/>
<circle cx="92.6" cy="215.2" r="1.2" fill="none" stroke="#23a0dc" stroke-width="0.75"/>
<circle cx="90.52" cy="223.1" r="1.2" fill="none" stroke="#23a0dc" stroke-width="0.75"/>
<circle cx="92.92" cy="222.6" r="1.2" fill="none" stroke="#23a0dc" stroke-width="0.75"/>
<circle cx="95.32" cy="224.5" r="1.2" fill="none" stroke="#23a0dc" stroke-width="0.75"/>
<circle cx="90.52" cy="225" r="1.2" fill="none" stroke="#23a0dc" stroke-width="0.75"/>
<line x1="88.6" y1="220.5" x2="96.6" y2="220.5" stroke="#151515" stroke-width="1.0"/>
<line x1="46.3" y1="170.5" x2="94" y2="170.5" stroke="#5c5c5c" stroke-width="1.0"/>
<circle cx="68.93" cy="167.3" r="0.78" fill="#444"/>
<circle cx="71.38" cy="167.3" r="0.78" fill="#444"/>
<line x1="46.3" y1="181.5" x2="81.3" y2="181.5" stroke="#5c5c5c" stroke-width="1.0"/>
<circle cx="63.8" cy="178.3" r="0.78" fill="#444"/>
<text x="111" y="147" font-size="10.6" font-weight="bold" fill="#111" stroke="#111" stroke-width="0.35" textLength="7.0" lengthAdjust="spacingAndGlyphs">C</text>
<line x1="134.2" y1="172.5" x2="134.2" y2="236.7" stroke="#1c1c1c" stroke-width="1.25"/>
<line x1="131.5" y1="236.2" x2="134.2" y2="236.2" stroke="#1c1c1c" stroke-width="1.25"/>
<text x="128.2" y="238.2" font-size="5.6" text-anchor="end" fill="#2e2e2e" stroke="#2e2e2e" stroke-width="0.12">0</text>
<line x1="131.5" y1="223.86" x2="134.2" y2="223.86" stroke="#1c1c1c" stroke-width="1.25"/>
<text x="128.2" y="225.86" font-size="5.6" text-anchor="end" fill="#2e2e2e" stroke="#2e2e2e" stroke-width="0.12">10</text>
<line x1="131.5" y1="211.52" x2="134.2" y2="211.52" stroke="#1c1c1c" stroke-width="1.25"/>
<text x="128.2" y="213.52" font-size="5.6" text-anchor="end" fill="#2e2e2e" stroke="#2e2e2e" stroke-width="0.12">20</text>
<line x1="131.5" y1="199.18" x2="134.2" y2="199.18" stroke="#1c1c1c" stroke-width="1.25"/>
<text x="128.2" y="201.18" font-size="5.6" text-anchor="end" fill="#2e2e2e" stroke="#2e2e2e" stroke-width="0.12">30</text>
<line x1="131.5" y1="186.84" x2="134.2" y2="186.84" stroke="#1c1c1c" stroke-width="1.25"/>
<text x="128.2" y="188.84" font-size="5.6" text-anchor="end" fill="#2e2e2e" stroke="#2e2e2e" stroke-width="0.12">40</text>
<line x1="131.5" y1="174.5" x2="134.2" y2="174.5" stroke="#1c1c1c" stroke-width="1.25"/>
<text x="128.2" y="176.5" font-size="5.6" text-anchor="end" fill="#2e2e2e" stroke="#2e2e2e" stroke-width="0.12">50</text>
<line x1="132.7" y1="236.2" x2="196.5" y2="236.2" stroke="#1c1c1c" stroke-width="1.25"/>
<line x1="141.7" y1="236.2" x2="141.7" y2="238.7" stroke="#1c1c1c" stroke-width="1.25"/>
<line x1="153.4" y1="236.2" x2="153.4" y2="238.7" stroke="#1c1c1c" stroke-width="1.25"/>
<line x1="165.2" y1="236.2" x2="165.2" y2="238.7" stroke="#1c1c1c" stroke-width="1.25"/>
<line x1="176.6" y1="236.2" x2="176.6" y2="238.7" stroke="#1c1c1c" stroke-width="1.25"/>
<line x1="188.1" y1="236.2" x2="188.1" y2="238.7" stroke="#1c1c1c" stroke-width="1.25"/>
<text transform="translate(143.1,247.1) rotate(-45)" font-size="6.1" text-anchor="end" fill="#2a2a2a" stroke="#2a2a2a" stroke-width="0.1">Control</text>
<text transform="translate(154.8,247.1) rotate(-45)" font-size="6.1" text-anchor="end" fill="#2a2a2a" stroke="#2a2a2a" stroke-width="0.1"><tspan font-style="italic">HBG1/2</tspan> 2 μM</text>
<text transform="translate(166.6,247.1) rotate(-45)" font-size="6.1" text-anchor="end" fill="#2a2a2a" stroke="#2a2a2a" stroke-width="0.1"><tspan font-style="italic">HBG1/2</tspan> 8 μM</text>
<text transform="translate(178,247.1) rotate(-45)" font-size="6.1" text-anchor="end" fill="#2a2a2a" stroke="#2a2a2a" stroke-width="0.1"><tspan font-style="italic">BCL11A</tspan> 4 μM</text>
<text transform="translate(189.5,247.1) rotate(-45)" font-size="6.1" text-anchor="end" fill="#2a2a2a" stroke="#2a2a2a" stroke-width="0.1"><tspan font-style="italic">BCL11A</tspan> 8 μM</text>
<text transform="translate(114.66,205) rotate(-90)" x="0" y="0" font-size="6.3" font-weight="bold" text-anchor="middle" fill="#222" textLength="22" lengthAdjust="spacingAndGlyphs">HbF (%)</text>
<circle cx="141.8" cy="220.2" r="1.2" fill="none" stroke="#35a035" stroke-width="0.75"/>
<circle cx="139.72" cy="227.8" r="1.2" fill="none" stroke="#35a035" stroke-width="0.75"/>
<circle cx="141.8" cy="227.5" r="1.2" fill="none" stroke="#35a035" stroke-width="0.75"/>
<circle cx="143.88" cy="227.8" r="1.2" fill="none" stroke="#35a035" stroke-width="0.75"/>
<circle cx="140.76" cy="229.8" r="1.2" fill="none" stroke="#35a035" stroke-width="0.75"/>
<circle cx="142.84" cy="229.8" r="1.2" fill="none" stroke="#35a035" stroke-width="0.75"/>
<ellipse cx="141.8" cy="228.8" rx="3.4" ry="1.8" fill="#35a035"/>
<line x1="137.8" y1="228.5" x2="145.8" y2="228.5" stroke="#151515" stroke-width="1.0"/>
<circle cx="151.48" cy="184" r="1.2" fill="none" stroke="#f39a1c" stroke-width="0.75"/>
<circle cx="154.68" cy="186.3" r="1.2" fill="none" stroke="#f39a1c" stroke-width="0.75"/>
<circle cx="152.28" cy="189.3" r="1.2" fill="none" stroke="#f39a1c" stroke-width="0.75"/>
<circle cx="155.08" cy="193.9" r="1.2" fill="none" stroke="#f39a1c" stroke-width="0.75"/>
<circle cx="151.48" cy="195.4" r="1.2" fill="none" stroke="#f39a1c" stroke-width="0.75"/>
<circle cx="153.88" cy="196.9" r="1.2" fill="none" stroke="#f39a1c" stroke-width="0.75"/>
<circle cx="155.88" cy="195" r="1.2" fill="none" stroke="#f39a1c" stroke-width="0.75"/>
<line x1="149.4" y1="191.5" x2="157.4" y2="191.5" stroke="#151515" stroke-width="1.0"/>
<circle cx="163.46" cy="178.8" r="1.2" fill="none" stroke="#f39a1c" stroke-width="0.75"/>
<circle cx="166.66" cy="181" r="1.2" fill="none" stroke="#f39a1c" stroke-width="0.75"/>
<circle cx="165.3" cy="184.8" r="1.2" fill="none" stroke="#f39a1c" stroke-width="0.75"/>
<circle cx="167.46" cy="184" r="1.2" fill="none" stroke="#f39a1c" stroke-width="0.75"/>
<circle cx="165.3" cy="190" r="1.2" fill="none" stroke="#f39a1c" stroke-width="0.75"/>
<line x1="161.3" y1="182.5" x2="169.3" y2="182.5" stroke="#151515" stroke-width="1.0"/>
<circle cx="176.6" cy="208.5" r="1.2" fill="none" stroke="#23a0dc" stroke-width="0.75"/>
<circle cx="174.52" cy="218" r="1.2" fill="none" stroke="#23a0dc" stroke-width="0.75"/>
<circle cx="178.52" cy="218" r="1.2" fill="none" stroke="#23a0dc" stroke-width="0.75"/>
<circle cx="176.6" cy="221" r="1.2" fill="none" stroke="#23a0dc" stroke-width="0.75"/>
<circle cx="174.92" cy="224" r="1.2" fill="none" stroke="#23a0dc" stroke-width="0.75"/>
<circle cx="178.2" cy="224" r="1.2" fill="none" stroke="#23a0dc" stroke-width="0.75"/>
<line x1="172.6" y1="218.5" x2="180.6" y2="218.5" stroke="#151515" stroke-width="1.0"/>
<circle cx="188" cy="188.6" r="1.2" fill="none" stroke="#23a0dc" stroke-width="0.75"/>
<circle cx="186" cy="197.6" r="1.2" fill="none" stroke="#23a0dc" stroke-width="0.75"/>
<circle cx="190" cy="197.6" r="1.2" fill="none" stroke="#23a0dc" stroke-width="0.75"/>
<circle cx="188" cy="202.9" r="1.2" fill="none" stroke="#23a0dc" stroke-width="0.75"/>
<circle cx="186.4" cy="206.7" r="1.2" fill="none" stroke="#23a0dc" stroke-width="0.75"/>
<circle cx="189.6" cy="206.7" r="1.2" fill="none" stroke="#23a0dc" stroke-width="0.75"/>
<line x1="184" y1="199.5" x2="192" y2="199.5" stroke="#151515" stroke-width="1.0"/>
<line x1="141.7" y1="150.5" x2="185.8" y2="150.5" stroke="#5c5c5c" stroke-width="1.0"/>
<circle cx="160.07" cy="147.3" r="0.78" fill="#444"/>
<circle cx="162.53" cy="147.3" r="0.78" fill="#444"/>
<circle cx="164.97" cy="147.3" r="0.78" fill="#444"/>
<circle cx="167.43" cy="147.3" r="0.78" fill="#444"/>
<line x1="141.7" y1="159.5" x2="176.5" y2="159.5" stroke="#5c5c5c" stroke-width="1.0"/>
<circle cx="157.88" cy="156.3" r="0.78" fill="#444"/>
<circle cx="160.32" cy="156.3" r="0.78" fill="#444"/>
<line x1="141.7" y1="167.5" x2="164.4" y2="167.5" stroke="#5c5c5c" stroke-width="1.0"/>
<circle cx="149.38" cy="164.3" r="0.78" fill="#444"/>
<circle cx="151.83" cy="164.3" r="0.78" fill="#444"/>
<circle cx="154.28" cy="164.3" r="0.78" fill="#444"/>
<circle cx="156.73" cy="164.3" r="0.78" fill="#444"/>
<line x1="166.7" y1="167.5" x2="187.8" y2="167.5" stroke="#5c5c5c" stroke-width="1.0"/>
<circle cx="173.57" cy="164.3" r="0.78" fill="#444"/>
<circle cx="176.03" cy="164.3" r="0.78" fill="#444"/>
<circle cx="178.47" cy="164.3" r="0.78" fill="#444"/>
<circle cx="180.93" cy="164.3" r="0.78" fill="#444"/>
<line x1="142.5" y1="175.5" x2="150.6" y2="175.5" stroke="#5c5c5c" stroke-width="1.0"/>
<circle cx="142.88" cy="172.3" r="0.78" fill="#444"/>
<circle cx="145.33" cy="172.3" r="0.78" fill="#444"/>
<circle cx="147.78" cy="172.3" r="0.78" fill="#444"/>
<circle cx="150.23" cy="172.3" r="0.78" fill="#444"/>
<line x1="152.9" y1="175.5" x2="176" y2="175.5" stroke="#5c5c5c" stroke-width="1.0"/>
<circle cx="160.77" cy="172.3" r="0.78" fill="#444"/>
<circle cx="163.22" cy="172.3" r="0.78" fill="#444"/>
<circle cx="165.67" cy="172.3" r="0.78" fill="#444"/>
<circle cx="168.12" cy="172.3" r="0.78" fill="#444"/>
<text x="206.3" y="147.3" font-size="10.6" font-weight="bold" fill="#111" stroke="#111" stroke-width="0.35" textLength="7.0" lengthAdjust="spacingAndGlyphs">D</text>
<line x1="233.6" y1="172" x2="233.6" y2="236.9" stroke="#1c1c1c" stroke-width="1.25"/>
<line x1="230.9" y1="236.4" x2="233.6" y2="236.4" stroke="#1c1c1c" stroke-width="1.25"/>
<text x="227.6" y="238.4" font-size="5.6" text-anchor="end" fill="#2e2e2e" stroke="#2e2e2e" stroke-width="0.12">0</text>
<line x1="230.9" y1="223.96" x2="233.6" y2="223.96" stroke="#1c1c1c" stroke-width="1.25"/>
<text x="227.6" y="225.96" font-size="5.6" text-anchor="end" fill="#2e2e2e" stroke="#2e2e2e" stroke-width="0.12">20</text>
<line x1="230.9" y1="211.52" x2="233.6" y2="211.52" stroke="#1c1c1c" stroke-width="1.25"/>
<text x="227.6" y="213.52" font-size="5.6" text-anchor="end" fill="#2e2e2e" stroke="#2e2e2e" stroke-width="0.12">40</text>
<line x1="230.9" y1="199.08" x2="233.6" y2="199.08" stroke="#1c1c1c" stroke-width="1.25"/>
<text x="227.6" y="201.08" font-size="5.6" text-anchor="end" fill="#2e2e2e" stroke="#2e2e2e" stroke-width="0.12">60</text>
<line x1="230.9" y1="186.64" x2="233.6" y2="186.64" stroke="#1c1c1c" stroke-width="1.25"/>
<text x="227.6" y="188.64" font-size="5.6" text-anchor="end" fill="#2e2e2e" stroke="#2e2e2e" stroke-width="0.12">80</text>
<line x1="230.9" y1="174.2" x2="233.6" y2="174.2" stroke="#1c1c1c" stroke-width="1.25"/>
<text x="227.6" y="176.2" font-size="5.6" text-anchor="end" fill="#2e2e2e" stroke="#2e2e2e" stroke-width="0.12">100</text>
<line x1="232.1" y1="236.4" x2="326.5" y2="236.4" stroke="#1c1c1c" stroke-width="1.25"/>
<line x1="240.8" y1="236.4" x2="240.8" y2="238.9" stroke="#1c1c1c" stroke-width="1.25"/>
<line x1="252.2" y1="236.4" x2="252.2" y2="238.9" stroke="#1c1c1c" stroke-width="1.25"/>
<line x1="263.4" y1="236.4" x2="263.4" y2="238.9" stroke="#1c1c1c" stroke-width="1.25"/>
<line x1="274.6" y1="236.4" x2="274.6" y2="238.9" stroke="#1c1c1c" stroke-width="1.25"/>
<line x1="285.8" y1="236.4" x2="285.8" y2="238.9" stroke="#1c1c1c" stroke-width="1.25"/>
<line x1="297" y1="236.4" x2="297" y2="238.9" stroke="#1c1c1c" stroke-width="1.25"/>
<line x1="308" y1="236.4" x2="308" y2="238.9" stroke="#1c1c1c" stroke-width="1.25"/>
<line x1="319.2" y1="236.4" x2="319.2" y2="238.9" stroke="#1c1c1c" stroke-width="1.25"/>
<text transform="translate(211.78,206.8) rotate(-90)" x="0" y="0" font-size="6.9" font-weight="bold" text-anchor="middle" fill="#222" textLength="21.5" lengthAdjust="spacingAndGlyphs">Indels (%)</text>
<rect x="237.9" y="204.6" width="6.3" height="31.8" fill="#f39a1c"/>
<rect x="260.3" y="191.9" width="6.3" height="44.5" fill="#f39a1c"/>
<rect x="282.3" y="212.8" width="6.6" height="23.6" fill="#23a0dc"/>
<rect x="304.8" y="182.3" width="6.3" height="54.1" fill="#23a0dc"/>
<circle cx="249.8" cy="197.5" r="1.2" fill="none" stroke="#f39a1c" stroke-width="0.75"/>
<circle cx="254.2" cy="197.5" r="1.2" fill="none" stroke="#f39a1c" stroke-width="0.75"/>
<circle cx="252.8" cy="193.2" r="1.2" fill="none" stroke="#f39a1c" stroke-width="0.75"/>
<circle cx="250.5" cy="195.5" r="1.2" fill="none" stroke="#f39a1c" stroke-width="0.75"/>
<circle cx="254" cy="195" r="1.2" fill="none" stroke="#f39a1c" stroke-width="0.75"/>
<circle cx="252" cy="198.8" r="1.2" fill="none" stroke="#f39a1c" stroke-width="0.75"/>
<circle cx="252" cy="196" r="1.2" fill="none" stroke="#f39a1c" stroke-width="0.75"/>
<line x1="249.7" y1="196.5" x2="254.7" y2="196.5" stroke="#6a4a20" stroke-width="1.0"/>
<ellipse cx="274.7" cy="178.6" rx="4.0" ry="1.9" fill="#f39a1c"/>
<circle cx="296.3" cy="195.5" r="1.2" fill="none" stroke="#23a0dc" stroke-width="0.75"/>
<circle cx="294.5" cy="198.5" r="1.2" fill="none" stroke="#23a0dc" stroke-width="0.75"/>
<circle cx="297.8" cy="198.3" r="1.2" fill="none" stroke="#23a0dc" stroke-width="0.75"/>
<circle cx="294.8" cy="203.8" r="1.2" fill="none" stroke="#23a0dc" stroke-width="0.75"/>
<circle cx="297.5" cy="203.8" r="1.2" fill="none" stroke="#23a0dc" stroke-width="0.75"/>
<circle cx="296.3" cy="201" r="1.2" fill="none" stroke="#23a0dc" stroke-width="0.75"/>
<line x1="293.3" y1="201.5" x2="299.3" y2="201.5" stroke="#1a3a7a" stroke-width="1.0"/>
<ellipse cx="319" cy="175.8" rx="4.1" ry="1.9" fill="#23a0dc"/>
<text x="240.8" y="246.8" font-size="5.2" text-anchor="middle" fill="#2e2e2e" >Pre</text>
<text x="252.2" y="246.8" font-size="5.2" text-anchor="middle" fill="#2e2e2e" >BM</text>
<text x="263.4" y="246.8" font-size="5.2" text-anchor="middle" fill="#2e2e2e" >Pre</text>
<text x="274.6" y="246.8" font-size="5.2" text-anchor="middle" fill="#2e2e2e" >BM</text>
<text x="285.8" y="246.8" font-size="5.2" text-anchor="middle" fill="#2e2e2e" >Pre</text>
<text x="297" y="246.8" font-size="5.2" text-anchor="middle" fill="#2e2e2e" >BM</text>
<text x="308" y="246.8" font-size="5.2" text-anchor="middle" fill="#2e2e2e" >Pre</text>
<text x="319.2" y="246.8" font-size="5.2" text-anchor="middle" fill="#2e2e2e" >BM</text>
<line x1="235.9" y1="248.8" x2="257" y2="248.8" stroke="#555" stroke-width="0.9"/>
<line x1="258.7" y1="248.8" x2="279.2" y2="248.8" stroke="#555" stroke-width="0.9"/>
<line x1="281.3" y1="248.8" x2="301.4" y2="248.8" stroke="#555" stroke-width="0.9"/>
<line x1="303" y1="248.8" x2="323.7" y2="248.8" stroke="#555" stroke-width="0.9"/>
<text x="246.4" y="255.8" font-size="5.6" text-anchor="middle" fill="#2e2e2e" font-style="italic">HBG1/2</text>
<text x="246.4" y="261.8" font-size="5.6" text-anchor="middle" fill="#2e2e2e" >2 μM</text>
<text x="269" y="255.8" font-size="5.6" text-anchor="middle" fill="#2e2e2e" font-style="italic">HBG1/2</text>
<text x="269" y="261.8" font-size="5.6" text-anchor="middle" fill="#2e2e2e" >8 μM</text>
<text x="291.3" y="255.8" font-size="5.6" text-anchor="middle" fill="#2e2e2e" font-style="italic">BCL11A</text>
<text x="291.3" y="261.8" font-size="5.6" text-anchor="middle" fill="#2e2e2e" >4 μM</text>
<text x="313.3" y="255.8" font-size="5.6" text-anchor="middle" fill="#2e2e2e" font-style="italic">BCL11A</text>
<text x="313.3" y="261.8" font-size="5.6" text-anchor="middle" fill="#2e2e2e" >8 μM</text>
<text x="343.4" y="147" font-size="10.6" font-weight="bold" fill="#111" stroke="#111" stroke-width="0.35" textLength="7.0" lengthAdjust="spacingAndGlyphs">E</text>
<line x1="371" y1="171.5" x2="371" y2="236.3" stroke="#1c1c1c" stroke-width="1.25"/>
<line x1="368.3" y1="235.8" x2="371" y2="235.8" stroke="#1c1c1c" stroke-width="1.25"/>
<text x="365" y="237.8" font-size="5.6" text-anchor="end" fill="#2e2e2e" stroke="#2e2e2e" stroke-width="0.12">0</text>
<line x1="368.3" y1="223.36" x2="371" y2="223.36" stroke="#1c1c1c" stroke-width="1.25"/>
<text x="365" y="225.36" font-size="5.6" text-anchor="end" fill="#2e2e2e" stroke="#2e2e2e" stroke-width="0.12">20</text>
<line x1="368.3" y1="210.92" x2="371" y2="210.92" stroke="#1c1c1c" stroke-width="1.25"/>
<text x="365" y="212.92" font-size="5.6" text-anchor="end" fill="#2e2e2e" stroke="#2e2e2e" stroke-width="0.12">40</text>
<line x1="368.3" y1="198.48" x2="371" y2="198.48" stroke="#1c1c1c" stroke-width="1.25"/>
<text x="365" y="200.48" font-size="5.6" text-anchor="end" fill="#2e2e2e" stroke="#2e2e2e" stroke-width="0.12">60</text>
<line x1="368.3" y1="186.04" x2="371" y2="186.04" stroke="#1c1c1c" stroke-width="1.25"/>
<text x="365" y="188.04" font-size="5.6" text-anchor="end" fill="#2e2e2e" stroke="#2e2e2e" stroke-width="0.12">80</text>
<line x1="368.3" y1="173.6" x2="371" y2="173.6" stroke="#1c1c1c" stroke-width="1.25"/>
<text x="365" y="175.6" font-size="5.6" text-anchor="end" fill="#2e2e2e" stroke="#2e2e2e" stroke-width="0.12">100</text>
<line x1="369.5" y1="235.8" x2="505.5" y2="235.8" stroke="#1c1c1c" stroke-width="1.25"/>
<line x1="376" y1="235.8" x2="376" y2="238.3" stroke="#1c1c1c" stroke-width="1.25"/>
<line x1="383.1" y1="235.8" x2="383.1" y2="238.3" stroke="#1c1c1c" stroke-width="1.25"/>
<line x1="390.3" y1="235.8" x2="390.3" y2="238.3" stroke="#1c1c1c" stroke-width="1.25"/>
<line x1="397.5" y1="235.8" x2="397.5" y2="238.3" stroke="#1c1c1c" stroke-width="1.25"/>
<line x1="410" y1="235.8" x2="410" y2="238.3" stroke="#1c1c1c" stroke-width="1.25"/>
<line x1="417.2" y1="235.8" x2="417.2" y2="238.3" stroke="#1c1c1c" stroke-width="1.25"/>
<line x1="424.5" y1="235.8" x2="424.5" y2="238.3" stroke="#1c1c1c" stroke-width="1.25"/>
<line x1="431.7" y1="235.8" x2="431.7" y2="238.3" stroke="#1c1c1c" stroke-width="1.25"/>
<line x1="444.2" y1="235.8" x2="444.2" y2="238.3" stroke="#1c1c1c" stroke-width="1.25"/>
<line x1="451.4" y1="235.8" x2="451.4" y2="238.3" stroke="#1c1c1c" stroke-width="1.25"/>
<line x1="458.9" y1="235.8" x2="458.9" y2="238.3" stroke="#1c1c1c" stroke-width="1.25"/>
<line x1="466.2" y1="235.8" x2="466.2" y2="238.3" stroke="#1c1c1c" stroke-width="1.25"/>
<line x1="478.6" y1="235.8" x2="478.6" y2="238.3" stroke="#1c1c1c" stroke-width="1.25"/>
<line x1="486" y1="235.8" x2="486" y2="238.3" stroke="#1c1c1c" stroke-width="1.25"/>
<line x1="493.4" y1="235.8" x2="493.4" y2="238.3" stroke="#1c1c1c" stroke-width="1.25"/>
<line x1="500.8" y1="235.8" x2="500.8" y2="238.3" stroke="#1c1c1c" stroke-width="1.25"/>
<text transform="translate(348.88,206.8) rotate(-90)" x="0" y="0" font-size="6.9" font-weight="bold" text-anchor="middle" fill="#222" textLength="21.4" lengthAdjust="spacingAndGlyphs">Indels (%)</text>
<text transform="translate(377.7,242.2) rotate(-90)" font-size="4.6" text-anchor="end" fill="#2e2e2e">HSPC</text>
<text transform="translate(384.8,242.2) rotate(-90)" font-size="4.6" text-anchor="end" fill="#2e2e2e">B cell</text>
<text transform="translate(392,242.2) rotate(-90)" font-size="4.6" text-anchor="end" fill="#2e2e2e">Neutrophil</text>
<text transform="translate(399.2,242.2) rotate(-90)" font-size="4.6" text-anchor="end" fill="#2e2e2e">Erythroid</text>
<text transform="translate(411.7,242.2) rotate(-90)" font-size="4.6" text-anchor="end" fill="#2e2e2e">HSPC</text>
<text transform="translate(418.9,242.2) rotate(-90)" font-size="4.6" text-anchor="end" fill="#2e2e2e">B cell</text>
<text transform="translate(426.2,242.2) rotate(-90)" font-size="4.6" text-anchor="end" fill="#2e2e2e">Neutrophil</text>
<text transform="translate(433.4,242.2) rotate(-90)" font-size="4.6" text-anchor="end" fill="#2e2e2e">Erythroid</text>
<text transform="translate(445.9,242.2) rotate(-90)" font-size="4.6" text-anchor="end" fill="#2e2e2e">HSPC</text>
<text transform="translate(453.1,242.2) rotate(-90)" font-size="4.6" text-anchor="end" fill="#2e2e2e">B cell</text>
<text transform="translate(460.6,242.2) rotate(-90)" font-size="4.6" text-anchor="end" fill="#2e2e2e">Neutrophil</text>
<text transform="translate(467.9,242.2) rotate(-90)" font-size="4.6" text-anchor="end" fill="#2e2e2e">Erythroid</text>
<text transform="translate(480.3,242.2) rotate(-90)" font-size="4.6" text-anchor="end" fill="#2e2e2e">HSPC</text>
<text transform="translate(487.7,242.2) rotate(-90)" font-size="4.6" text-anchor="end" fill="#2e2e2e">B cell</text>
<text transform="translate(495.1,242.2) rotate(-90)" font-size="4.6" text-anchor="end" fill="#2e2e2e">Neutrophil</text>
<text transform="translate(502.5,242.2) rotate(-90)" font-size="4.6" text-anchor="end" fill="#2e2e2e">Erythroid</text>
<line x1="372.6" y1="266.5" x2="400.2" y2="266.5" stroke="#555" stroke-width="0.8"/>
<line x1="406.5" y1="266.5" x2="434.5" y2="266.5" stroke="#555" stroke-width="0.8"/>
<line x1="441" y1="266.5" x2="469" y2="266.5" stroke="#555" stroke-width="0.8"/>
<line x1="475.5" y1="266.5" x2="503.5" y2="266.5" stroke="#555" stroke-width="0.8"/>
<text x="386.4" y="273" font-size="5.1" text-anchor="middle" fill="#2e2e2e" font-style="italic">HBG1/2</text>
<text x="386.4" y="279" font-size="5.1" text-anchor="middle" fill="#2e2e2e" >2 μM</text>
<text x="420.5" y="273" font-size="5.1" text-anchor="middle" fill="#2e2e2e" font-style="italic">HBG1/2</text>
<text x="420.5" y="279" font-size="5.1" text-anchor="middle" fill="#2e2e2e" >8 μM</text>
<text x="455" y="273" font-size="5.1" text-anchor="middle" fill="#2e2e2e" font-style="italic">BCL11A</text>
<text x="455" y="279" font-size="5.1" text-anchor="middle" fill="#2e2e2e" >4 μM</text>
<text x="489.5" y="273" font-size="5.1" text-anchor="middle" fill="#2e2e2e" font-style="italic">BCL11A</text>
<text x="489.5" y="279" font-size="5.1" text-anchor="middle" fill="#2e2e2e" >8 μM</text>
<rect x="373.5" y="191.7" width="4.6" height="6.5" rx="2.1" ry="2.1" fill="#f39a1c" fill-opacity="0.9"/>
<circle cx="375.8" cy="193.7" r="1.0" fill="none" stroke="#e08a10" stroke-width="0.5"/>
<circle cx="375.8" cy="196.2" r="1.0" fill="none" stroke="#e08a10" stroke-width="0.5"/>
<rect x="380.9" y="191.1" width="4.6" height="9.1" rx="2.1" ry="2.1" fill="#f39a1c" fill-opacity="0.9"/>
<circle cx="383.2" cy="193.1" r="1.0" fill="none" stroke="#e08a10" stroke-width="0.5"/>
<circle cx="383.2" cy="198.2" r="1.0" fill="none" stroke="#e08a10" stroke-width="0.5"/>
<rect x="388.2" y="191.4" width="4.6" height="6.8" rx="2.1" ry="2.1" fill="#f39a1c" fill-opacity="0.9"/>
<circle cx="390.5" cy="193.4" r="1.0" fill="none" stroke="#e08a10" stroke-width="0.5"/>
<circle cx="390.5" cy="196.2" r="1.0" fill="none" stroke="#e08a10" stroke-width="0.5"/>
<rect x="395.7" y="191.4" width="4.6" height="6.8" rx="2.1" ry="2.1" fill="#f39a1c" fill-opacity="0.9"/>
<circle cx="398" cy="193.4" r="1.0" fill="none" stroke="#e08a10" stroke-width="0.5"/>
<circle cx="398" cy="196.2" r="1.0" fill="none" stroke="#e08a10" stroke-width="0.5"/>
<ellipse cx="409.7" cy="177.6" rx="2.4" ry="2.1" fill="#f39a1c"/>
<ellipse cx="417.1" cy="177.6" rx="2.4" ry="2.1" fill="#f39a1c"/>
<ellipse cx="424.5" cy="177.6" rx="2.4" ry="2.1" fill="#f39a1c"/>
<ellipse cx="431.9" cy="177.6" rx="2.4" ry="2.1" fill="#f39a1c"/>
<circle cx="443.4" cy="197.3" r="1.1" fill="none" stroke="#23a0dc" stroke-width="0.6"/>
<circle cx="445.6" cy="197.3" r="1.1" fill="none" stroke="#23a0dc" stroke-width="0.6"/>
<circle cx="443.4" cy="199.6" r="1.1" fill="none" stroke="#23a0dc" stroke-width="0.6"/>
<circle cx="445.6" cy="199.6" r="1.1" fill="none" stroke="#23a0dc" stroke-width="0.6"/>
<circle cx="443.4" cy="201.9" r="1.1" fill="none" stroke="#23a0dc" stroke-width="0.6"/>
<circle cx="445.6" cy="201.9" r="1.1" fill="none" stroke="#23a0dc" stroke-width="0.6"/>
<circle cx="443.4" cy="204.2" r="1.1" fill="none" stroke="#23a0dc" stroke-width="0.6"/>
<circle cx="445.6" cy="204.2" r="1.1" fill="none" stroke="#23a0dc" stroke-width="0.6"/>
<ellipse cx="444.5" cy="200.6" rx="2.0" ry="1.4" fill="#23a0dc"/>
<line x1="442" y1="200.5" x2="447" y2="200.5" stroke="#1c3f7a" stroke-width="1.0"/>
<circle cx="450.7" cy="196" r="1.1" fill="none" stroke="#23a0dc" stroke-width="0.6"/>
<circle cx="452.9" cy="196" r="1.1" fill="none" stroke="#23a0dc" stroke-width="0.6"/>
<circle cx="450.7" cy="198.6" r="1.1" fill="none" stroke="#23a0dc" stroke-width="0.6"/>
<circle cx="452.9" cy="198.6" r="1.1" fill="none" stroke="#23a0dc" stroke-width="0.6"/>
<circle cx="450.7" cy="201.2" r="1.1" fill="none" stroke="#23a0dc" stroke-width="0.6"/>
<circle cx="452.9" cy="201.2" r="1.1" fill="none" stroke="#23a0dc" stroke-width="0.6"/>
<circle cx="450.7" cy="203.8" r="1.1" fill="none" stroke="#23a0dc" stroke-width="0.6"/>
<circle cx="452.9" cy="203.8" r="1.1" fill="none" stroke="#23a0dc" stroke-width="0.6"/>
<ellipse cx="451.8" cy="200" rx="2.0" ry="1.4" fill="#23a0dc"/>
<line x1="449.3" y1="200.5" x2="454.3" y2="200.5" stroke="#1c3f7a" stroke-width="1.0"/>
<circle cx="457.9" cy="197.7" r="1.1" fill="none" stroke="#23a0dc" stroke-width="0.6"/>
<circle cx="460.1" cy="197.7" r="1.1" fill="none" stroke="#23a0dc" stroke-width="0.6"/>
<circle cx="457.9" cy="199.63" r="1.1" fill="none" stroke="#23a0dc" stroke-width="0.6"/>
<circle cx="460.1" cy="199.63" r="1.1" fill="none" stroke="#23a0dc" stroke-width="0.6"/>
<circle cx="457.9" cy="201.57" r="1.1" fill="none" stroke="#23a0dc" stroke-width="0.6"/>
<circle cx="460.1" cy="201.57" r="1.1" fill="none" stroke="#23a0dc" stroke-width="0.6"/>
<circle cx="457.9" cy="203.5" r="1.1" fill="none" stroke="#23a0dc" stroke-width="0.6"/>
<circle cx="460.1" cy="203.5" r="1.1" fill="none" stroke="#23a0dc" stroke-width="0.6"/>
<ellipse cx="459.0" cy="199.5" rx="2.0" ry="1.4" fill="#23a0dc"/>
<line x1="456.5" y1="199.5" x2="461.5" y2="199.5" stroke="#1c3f7a" stroke-width="1.0"/>
<circle cx="465.2" cy="202.8" r="1.1" fill="none" stroke="#23a0dc" stroke-width="0.6"/>
<circle cx="467.4" cy="202.8" r="1.1" fill="none" stroke="#23a0dc" stroke-width="0.6"/>
<circle cx="465.2" cy="205.3" r="1.1" fill="none" stroke="#23a0dc" stroke-width="0.6"/>
<circle cx="467.4" cy="205.3" r="1.1" fill="none" stroke="#23a0dc" stroke-width="0.6"/>
<circle cx="465.2" cy="207.8" r="1.1" fill="none" stroke="#23a0dc" stroke-width="0.6"/>
<circle cx="467.4" cy="207.8" r="1.1" fill="none" stroke="#23a0dc" stroke-width="0.6"/>
<circle cx="465.2" cy="210.3" r="1.1" fill="none" stroke="#23a0dc" stroke-width="0.6"/>
<circle cx="467.4" cy="210.3" r="1.1" fill="none" stroke="#23a0dc" stroke-width="0.6"/>
<ellipse cx="466.3" cy="206" rx="2.0" ry="1.4" fill="#23a0dc"/>
<line x1="463.8" y1="206.5" x2="468.8" y2="206.5" stroke="#1c3f7a" stroke-width="1.0"/>
<circle cx="451.8" cy="176.2" r="1.2" fill="none" stroke="#23a0dc" stroke-width="0.75"/>
<ellipse cx="478.6" cy="174.6" rx="2.5" ry="1.7" fill="#23a0dc"/>
<circle cx="477.8" cy="174.4" r="1.1" fill="none" stroke="#1a8cc8" stroke-width="0.5"/>
<ellipse cx="486.4" cy="174.6" rx="2.5" ry="1.7" fill="#23a0dc"/>
<circle cx="485.6" cy="174.4" r="1.1" fill="none" stroke="#1a8cc8" stroke-width="0.5"/>
<ellipse cx="493.2" cy="174.6" rx="2.5" ry="1.7" fill="#23a0dc"/>
<circle cx="492.4" cy="174.4" r="1.1" fill="none" stroke="#1a8cc8" stroke-width="0.5"/>
<ellipse cx="501" cy="174.6" rx="2.5" ry="1.7" fill="#23a0dc"/>
<circle cx="500.2" cy="174.4" r="1.1" fill="none" stroke="#1a8cc8" stroke-width="0.5"/>
<line x1="444.6" y1="170.5" x2="466.6" y2="170.5" stroke="#5c5c5c" stroke-width="1.0"/>
<circle cx="451.93" cy="167.3" r="0.78" fill="#444"/>
<circle cx="454.38" cy="167.3" r="0.78" fill="#444"/>
<circle cx="456.83" cy="167.3" r="0.78" fill="#444"/>
<circle cx="459.28" cy="167.3" r="0.78" fill="#444"/>
<line x1="451.8" y1="185.5" x2="466.6" y2="185.5" stroke="#5c5c5c" stroke-width="1.0"/>
<circle cx="459.2" cy="182.3" r="0.78" fill="#444"/>
<line x1="459.2" y1="193.5" x2="466.6" y2="193.5" stroke="#5c5c5c" stroke-width="1.0"/>
<circle cx="459.22" cy="190.3" r="0.78" fill="#444"/>
<circle cx="461.67" cy="190.3" r="0.78" fill="#444"/>
<circle cx="464.12" cy="190.3" r="0.78" fill="#444"/>
<circle cx="466.57" cy="190.3" r="0.78" fill="#444"/>
<line x1="478.6" y1="163.5" x2="501" y2="163.5" stroke="#5c5c5c" stroke-width="1.0"/>
<circle cx="489.8" cy="160.3" r="0.78" fill="#444"/>
<line x1="493.2" y1="171.5" x2="501" y2="171.5" stroke="#5c5c5c" stroke-width="1.0"/>
<circle cx="497.1" cy="168.3" r="0.78" fill="#444"/>
<text x="7" y="303.9" font-size="10.6" font-weight="bold" fill="#111" stroke="#111" stroke-width="0.35" textLength="7.0" lengthAdjust="spacingAndGlyphs">F</text>
<line x1="34.9" y1="316.5" x2="34.9" y2="381.3" stroke="#1c1c1c" stroke-width="1.25"/>
<line x1="32.2" y1="380.8" x2="34.9" y2="380.8" stroke="#1c1c1c" stroke-width="1.25"/>
<text x="28.9" y="382.8" font-size="5.6" text-anchor="end" fill="#2e2e2e" stroke="#2e2e2e" stroke-width="0.12">0</text>
<line x1="32.2" y1="368.36" x2="34.9" y2="368.36" stroke="#1c1c1c" stroke-width="1.25"/>
<text x="28.9" y="370.36" font-size="5.6" text-anchor="end" fill="#2e2e2e" stroke="#2e2e2e" stroke-width="0.12">20</text>
<line x1="32.2" y1="355.92" x2="34.9" y2="355.92" stroke="#1c1c1c" stroke-width="1.25"/>
<text x="28.9" y="357.92" font-size="5.6" text-anchor="end" fill="#2e2e2e" stroke="#2e2e2e" stroke-width="0.12">40</text>
<line x1="32.2" y1="343.48" x2="34.9" y2="343.48" stroke="#1c1c1c" stroke-width="1.25"/>
<text x="28.9" y="345.48" font-size="5.6" text-anchor="end" fill="#2e2e2e" stroke="#2e2e2e" stroke-width="0.12">60</text>
<line x1="32.2" y1="331.04" x2="34.9" y2="331.04" stroke="#1c1c1c" stroke-width="1.25"/>
<text x="28.9" y="333.04" font-size="5.6" text-anchor="end" fill="#2e2e2e" stroke="#2e2e2e" stroke-width="0.12">80</text>
<line x1="32.2" y1="318.6" x2="34.9" y2="318.6" stroke="#1c1c1c" stroke-width="1.25"/>
<text x="28.9" y="320.6" font-size="5.6" text-anchor="end" fill="#2e2e2e" stroke="#2e2e2e" stroke-width="0.12">100</text>
<line x1="33.4" y1="380.8" x2="98" y2="380.8" stroke="#1c1c1c" stroke-width="1.25"/>
<line x1="34.9" y1="380.8" x2="34.9" y2="383.3" stroke="#1c1c1c" stroke-width="1.25"/>
<line x1="47.02" y1="380.8" x2="47.02" y2="383.3" stroke="#1c1c1c" stroke-width="1.25"/>
<line x1="59.14" y1="380.8" x2="59.14" y2="383.3" stroke="#1c1c1c" stroke-width="1.25"/>
<line x1="71.26" y1="380.8" x2="71.26" y2="383.3" stroke="#1c1c1c" stroke-width="1.25"/>
<line x1="83.38" y1="380.8" x2="83.38" y2="383.3" stroke="#1c1c1c" stroke-width="1.25"/>
<line x1="95.5" y1="380.8" x2="95.5" y2="383.3" stroke="#1c1c1c" stroke-width="1.25"/>
<text x="34.9" y="392" font-size="5.6" text-anchor="middle" fill="#2e2e2e" >0</text>
<text x="47.02" y="392" font-size="5.6" text-anchor="middle" fill="#2e2e2e" >20</text>
<text x="59.14" y="392" font-size="5.6" text-anchor="middle" fill="#2e2e2e" >40</text>
<text x="71.26" y="392" font-size="5.6" text-anchor="middle" fill="#2e2e2e" >60</text>
<text x="83.38" y="392" font-size="5.6" text-anchor="middle" fill="#2e2e2e" >80</text>
<text x="95.5" y="392" font-size="5.6" text-anchor="middle" fill="#2e2e2e" >100</text>
<line x1="34.9" y1="380.8" x2="95.5" y2="318.6" stroke="#111" stroke-width="1.0"/>
<text x="67" y="403.3" font-size="6.8" font-weight="bold" text-anchor="middle" fill="#222" textLength="39.3" lengthAdjust="spacingAndGlyphs">HSPC indel (%)</text>
<text transform="translate(12.66,347) rotate(-90)" x="0" y="0" font-size="6.8" font-weight="bold" text-anchor="middle" fill="#222" textLength="42.8" lengthAdjust="spacingAndGlyphs">B cell indels (%)</text>
<line x1="137.4" y1="316.5" x2="137.4" y2="381.3" stroke="#1c1c1c" stroke-width="1.25"/>
<line x1="134.7" y1="380.8" x2="137.4" y2="380.8" stroke="#1c1c1c" stroke-width="1.25"/>
<text x="131.4" y="382.8" font-size="5.6" text-anchor="end" fill="#2e2e2e" stroke="#2e2e2e" stroke-width="0.12">0</text>
<line x1="134.7" y1="368.36" x2="137.4" y2="368.36" stroke="#1c1c1c" stroke-width="1.25"/>
<text x="131.4" y="370.36" font-size="5.6" text-anchor="end" fill="#2e2e2e" stroke="#2e2e2e" stroke-width="0.12">20</text>
<line x1="134.7" y1="355.92" x2="137.4" y2="355.92" stroke="#1c1c1c" stroke-width="1.25"/>
<text x="131.4" y="357.92" font-size="5.6" text-anchor="end" fill="#2e2e2e" stroke="#2e2e2e" stroke-width="0.12">40</text>
<line x1="134.7" y1="343.48" x2="137.4" y2="343.48" stroke="#1c1c1c" stroke-width="1.25"/>
<text x="131.4" y="345.48" font-size="5.6" text-anchor="end" fill="#2e2e2e" stroke="#2e2e2e" stroke-width="0.12">60</text>
<line x1="134.7" y1="331.04" x2="137.4" y2="331.04" stroke="#1c1c1c" stroke-width="1.25"/>
<text x="131.4" y="333.04" font-size="5.6" text-anchor="end" fill="#2e2e2e" stroke="#2e2e2e" stroke-width="0.12">80</text>
<line x1="134.7" y1="318.6" x2="137.4" y2="318.6" stroke="#1c1c1c" stroke-width="1.25"/>
<text x="131.4" y="320.6" font-size="5.6" text-anchor="end" fill="#2e2e2e" stroke="#2e2e2e" stroke-width="0.12">100</text>
<line x1="135.9" y1="380.8" x2="199.9" y2="380.8" stroke="#1c1c1c" stroke-width="1.25"/>
<line x1="137.4" y1="380.8" x2="137.4" y2="383.3" stroke="#1c1c1c" stroke-width="1.25"/>
<line x1="149.4" y1="380.8" x2="149.4" y2="383.3" stroke="#1c1c1c" stroke-width="1.25"/>
<line x1="161.4" y1="380.8" x2="161.4" y2="383.3" stroke="#1c1c1c" stroke-width="1.25"/>
<line x1="173.4" y1="380.8" x2="173.4" y2="383.3" stroke="#1c1c1c" stroke-width="1.25"/>
<line x1="185.4" y1="380.8" x2="185.4" y2="383.3" stroke="#1c1c1c" stroke-width="1.25"/>
<line x1="197.4" y1="380.8" x2="197.4" y2="383.3" stroke="#1c1c1c" stroke-width="1.25"/>
<text x="137.4" y="392" font-size="5.6" text-anchor="middle" fill="#2e2e2e" >0</text>
<text x="149.4" y="392" font-size="5.6" text-anchor="middle" fill="#2e2e2e" >20</text>
<text x="161.4" y="392" font-size="5.6" text-anchor="middle" fill="#2e2e2e" >40</text>
<text x="173.4" y="392" font-size="5.6" text-anchor="middle" fill="#2e2e2e" >60</text>
<text x="185.4" y="392" font-size="5.6" text-anchor="middle" fill="#2e2e2e" >80</text>
<text x="197.4" y="392" font-size="5.6" text-anchor="middle" fill="#2e2e2e" >100</text>
<line x1="137.4" y1="380.8" x2="197.4" y2="318.6" stroke="#111" stroke-width="1.0"/>
<text x="169.2" y="403.3" font-size="6.8" font-weight="bold" text-anchor="middle" fill="#222" textLength="39.3" lengthAdjust="spacingAndGlyphs">HSPC indel (%)</text>
<text transform="translate(115.66,349.4) rotate(-90)" x="0" y="0" font-size="6.8" font-weight="bold" text-anchor="middle" fill="#222" textLength="51.6" lengthAdjust="spacingAndGlyphs">Neutrophil indels (%)</text>
<line x1="240.9" y1="316.5" x2="240.9" y2="381.3" stroke="#1c1c1c" stroke-width="1.25"/>
<line x1="238.2" y1="380.8" x2="240.9" y2="380.8" stroke="#1c1c1c" stroke-width="1.25"/>
<text x="234.9" y="382.8" font-size="5.6" text-anchor="end" fill="#2e2e2e" stroke="#2e2e2e" stroke-width="0.12">0</text>
<line x1="238.2" y1="368.36" x2="240.9" y2="368.36" stroke="#1c1c1c" stroke-width="1.25"/>
<text x="234.9" y="370.36" font-size="5.6" text-anchor="end" fill="#2e2e2e" stroke="#2e2e2e" stroke-width="0.12">20</text>
<line x1="238.2" y1="355.92" x2="240.9" y2="355.92" stroke="#1c1c1c" stroke-width="1.25"/>
<text x="234.9" y="357.92" font-size="5.6" text-anchor="end" fill="#2e2e2e" stroke="#2e2e2e" stroke-width="0.12">40</text>
<line x1="238.2" y1="343.48" x2="240.9" y2="343.48" stroke="#1c1c1c" stroke-width="1.25"/>
<text x="234.9" y="345.48" font-size="5.6" text-anchor="end" fill="#2e2e2e" stroke="#2e2e2e" stroke-width="0.12">60</text>
<line x1="238.2" y1="331.04" x2="240.9" y2="331.04" stroke="#1c1c1c" stroke-width="1.25"/>
<text x="234.9" y="333.04" font-size="5.6" text-anchor="end" fill="#2e2e2e" stroke="#2e2e2e" stroke-width="0.12">80</text>
<line x1="238.2" y1="318.6" x2="240.9" y2="318.6" stroke="#1c1c1c" stroke-width="1.25"/>
<text x="234.9" y="320.6" font-size="5.6" text-anchor="end" fill="#2e2e2e" stroke="#2e2e2e" stroke-width="0.12">100</text>
<line x1="239.4" y1="380.8" x2="304.5" y2="380.8" stroke="#1c1c1c" stroke-width="1.25"/>
<line x1="240.9" y1="380.8" x2="240.9" y2="383.3" stroke="#1c1c1c" stroke-width="1.25"/>
<line x1="253.12" y1="380.8" x2="253.12" y2="383.3" stroke="#1c1c1c" stroke-width="1.25"/>
<line x1="265.34" y1="380.8" x2="265.34" y2="383.3" stroke="#1c1c1c" stroke-width="1.25"/>
<line x1="277.56" y1="380.8" x2="277.56" y2="383.3" stroke="#1c1c1c" stroke-width="1.25"/>
<line x1="289.78" y1="380.8" x2="289.78" y2="383.3" stroke="#1c1c1c" stroke-width="1.25"/>
<line x1="302" y1="380.8" x2="302" y2="383.3" stroke="#1c1c1c" stroke-width="1.25"/>
<text x="240.9" y="392" font-size="5.6" text-anchor="middle" fill="#2e2e2e" >0</text>
<text x="253.12" y="392" font-size="5.6" text-anchor="middle" fill="#2e2e2e" >20</text>
<text x="265.34" y="392" font-size="5.6" text-anchor="middle" fill="#2e2e2e" >40</text>
<text x="277.56" y="392" font-size="5.6" text-anchor="middle" fill="#2e2e2e" >60</text>
<text x="289.78" y="392" font-size="5.6" text-anchor="middle" fill="#2e2e2e" >80</text>
<text x="302" y="392" font-size="5.6" text-anchor="middle" fill="#2e2e2e" >100</text>
<line x1="240.9" y1="380.8" x2="302" y2="318.6" stroke="#111" stroke-width="1.0"/>
<text x="273.25" y="403.3" font-size="6.8" font-weight="bold" text-anchor="middle" fill="#222" textLength="39.3" lengthAdjust="spacingAndGlyphs">HSPC indel (%)</text>
<text transform="translate(218.86,349.4) rotate(-90)" x="0" y="0" font-size="6.8" font-weight="bold" text-anchor="middle" fill="#222" textLength="49.6" lengthAdjust="spacingAndGlyphs">Erythroid indels (%)</text>
<circle cx="50.05" cy="362.76" r="1.4" fill="none" stroke="#f39a1c" stroke-width="0.7"/>
<circle cx="52.47" cy="361.52" r="1.4" fill="none" stroke="#f39a1c" stroke-width="0.7"/>
<circle cx="73.08" cy="344.1" r="1.4" fill="none" stroke="#f39a1c" stroke-width="0.7"/>
<circle cx="72.47" cy="342.24" r="1.4" fill="none" stroke="#f39a1c" stroke-width="0.7"/>
<circle cx="74.9" cy="340.99" r="1.4" fill="none" stroke="#f39a1c" stroke-width="0.7"/>
<circle cx="76.11" cy="337.26" r="1.4" fill="none" stroke="#f39a1c" stroke-width="0.7"/>
<circle cx="73.68" cy="339.13" r="1.4" fill="none" stroke="#f39a1c" stroke-width="0.7"/>
<circle cx="81.56" cy="331.04" r="1.45" fill="#23a0dc" stroke="#23a0dc" stroke-width="0.5"/>
<circle cx="83.38" cy="330.42" r="1.45" fill="#23a0dc" stroke="#23a0dc" stroke-width="0.5"/>
<circle cx="85.2" cy="329.8" r="1.45" fill="#23a0dc" stroke="#23a0dc" stroke-width="0.5"/>
<circle cx="87.02" cy="327.93" r="1.45" fill="#23a0dc" stroke="#23a0dc" stroke-width="0.5"/>
<circle cx="88.23" cy="327.31" r="1.45" fill="#23a0dc" stroke="#23a0dc" stroke-width="0.5"/>
<circle cx="89.44" cy="325.44" r="1.45" fill="#23a0dc" stroke="#23a0dc" stroke-width="0.5"/>
<circle cx="90.65" cy="324.2" r="1.45" fill="#23a0dc" stroke="#23a0dc" stroke-width="0.5"/>
<circle cx="91.86" cy="322.95" r="1.45" fill="#23a0dc" stroke="#23a0dc" stroke-width="0.5"/>
<circle cx="93.08" cy="321.71" r="1.45" fill="#23a0dc" stroke="#23a0dc" stroke-width="0.5"/>
<circle cx="93.68" cy="319.84" r="1.45" fill="#23a0dc" stroke="#23a0dc" stroke-width="0.5"/>
<circle cx="94.29" cy="320.47" r="1.45" fill="#23a0dc" stroke="#23a0dc" stroke-width="0.5"/>
<circle cx="94.89" cy="319.22" r="1.45" fill="#23a0dc" stroke="#23a0dc" stroke-width="0.5"/>
<circle cx="92.47" cy="323.58" r="1.45" fill="#23a0dc" stroke="#23a0dc" stroke-width="0.5"/>
<circle cx="89.44" cy="327.31" r="1.45" fill="#23a0dc" stroke="#23a0dc" stroke-width="0.5"/>
<circle cx="77.32" cy="337.88" r="1.45" fill="#23a0dc" stroke="#23a0dc" stroke-width="0.5"/>
<circle cx="83.38" cy="331.04" r="1.45" fill="#f39a1c" stroke="#f39a1c" stroke-width="0.5"/>
<circle cx="84.59" cy="329.17" r="1.45" fill="#f39a1c" stroke="#f39a1c" stroke-width="0.5"/>
<circle cx="86.41" cy="328.55" r="1.45" fill="#f39a1c" stroke="#f39a1c" stroke-width="0.5"/>
<circle cx="87.62" cy="327.31" r="1.45" fill="#f39a1c" stroke="#f39a1c" stroke-width="0.5"/>
<circle cx="85.8" cy="331.66" r="1.45" fill="#f39a1c" stroke="#f39a1c" stroke-width="0.5"/>
<circle cx="74.9" cy="343.48" r="1.45" fill="#f39a1c" stroke="#f39a1c" stroke-width="0.5"/>
<circle cx="59.14" cy="357.16" r="1.4" fill="none" stroke="#23a0dc" stroke-width="0.7"/>
<circle cx="60.35" cy="354.68" r="1.4" fill="none" stroke="#23a0dc" stroke-width="0.7"/>
<circle cx="63.99" cy="347.21" r="1.4" fill="none" stroke="#23a0dc" stroke-width="0.7"/>
<circle cx="66.78" cy="350.01" r="1.4" fill="none" stroke="#23a0dc" stroke-width="0.7"/>
<circle cx="68.84" cy="341.3" r="1.4" fill="none" stroke="#23a0dc" stroke-width="0.7"/>
<circle cx="71.26" cy="339.13" r="1.4" fill="none" stroke="#23a0dc" stroke-width="0.7"/>
<circle cx="70.29" cy="335.58" r="1.4" fill="none" stroke="#23a0dc" stroke-width="0.7"/>
<circle cx="72.47" cy="321.59" r="1.4" fill="none" stroke="#23a0dc" stroke-width="0.7"/>
<circle cx="68.11" cy="341.61" r="1.4" fill="none" stroke="#23a0dc" stroke-width="0.7"/>
<circle cx="63.2" cy="347.09" r="1.4" fill="none" stroke="#23a0dc" stroke-width="0.7"/>
<circle cx="65.99" cy="350.94" r="1.4" fill="none" stroke="#23a0dc" stroke-width="0.7"/>
<circle cx="76.9" cy="338.32" r="1.4" fill="none" stroke="#23a0dc" stroke-width="0.7"/>
<circle cx="153" cy="364.01" r="1.4" fill="none" stroke="#f39a1c" stroke-width="0.7"/>
<circle cx="155.4" cy="361.52" r="1.4" fill="none" stroke="#f39a1c" stroke-width="0.7"/>
<circle cx="172.8" cy="342.24" r="1.4" fill="none" stroke="#f39a1c" stroke-width="0.7"/>
<circle cx="174.6" cy="340.37" r="1.4" fill="none" stroke="#f39a1c" stroke-width="0.7"/>
<circle cx="177" cy="340.99" r="1.4" fill="none" stroke="#f39a1c" stroke-width="0.7"/>
<circle cx="178.2" cy="337.88" r="1.4" fill="none" stroke="#f39a1c" stroke-width="0.7"/>
<circle cx="180" cy="337.26" r="1.4" fill="none" stroke="#f39a1c" stroke-width="0.7"/>
<circle cx="175.8" cy="338.5" r="1.4" fill="none" stroke="#f39a1c" stroke-width="0.7"/>
<circle cx="168" cy="347.83" r="1.45" fill="#23a0dc" stroke="#23a0dc" stroke-width="0.5"/>
<circle cx="169.8" cy="348.46" r="1.45" fill="#23a0dc" stroke="#23a0dc" stroke-width="0.5"/>
<circle cx="170.4" cy="345.35" r="1.45" fill="#23a0dc" stroke="#23a0dc" stroke-width="0.5"/>
<circle cx="172.2" cy="345.97" r="1.45" fill="#23a0dc" stroke="#23a0dc" stroke-width="0.5"/>
<circle cx="173.4" cy="342.86" r="1.45" fill="#23a0dc" stroke="#23a0dc" stroke-width="0.5"/>
<circle cx="192.6" cy="322.95" r="1.45" fill="#23a0dc" stroke="#23a0dc" stroke-width="0.5"/>
<circle cx="193.8" cy="323.58" r="1.45" fill="#23a0dc" stroke="#23a0dc" stroke-width="0.5"/>
<circle cx="195" cy="321.09" r="1.45" fill="#23a0dc" stroke="#23a0dc" stroke-width="0.5"/>
<circle cx="196.2" cy="320.47" r="1.45" fill="#23a0dc" stroke="#23a0dc" stroke-width="0.5"/>
<circle cx="196.8" cy="318.6" r="1.45" fill="#23a0dc" stroke="#23a0dc" stroke-width="0.5"/>
<circle cx="159.6" cy="355.92" r="1.4" fill="none" stroke="#23a0dc" stroke-width="0.7"/>
<circle cx="161.4" cy="356.54" r="1.4" fill="none" stroke="#23a0dc" stroke-width="0.7"/>
<circle cx="163.2" cy="352.81" r="1.4" fill="none" stroke="#23a0dc" stroke-width="0.7"/>
<circle cx="165" cy="353.43" r="1.4" fill="none" stroke="#23a0dc" stroke-width="0.7"/>
<circle cx="166.8" cy="348.46" r="1.4" fill="none" stroke="#23a0dc" stroke-width="0.7"/>
<circle cx="169.2" cy="346.59" r="1.4" fill="none" stroke="#23a0dc" stroke-width="0.7"/>
<circle cx="182.4" cy="333.53" r="1.45" fill="#8fb09a" stroke="#8fb09a" stroke-width="0.5"/>
<circle cx="184.2" cy="332.28" r="1.45" fill="#8fb09a" stroke="#8fb09a" stroke-width="0.5"/>
<circle cx="186" cy="331.04" r="1.45" fill="#8fb09a" stroke="#8fb09a" stroke-width="0.5"/>
<circle cx="187.8" cy="328.55" r="1.45" fill="#8fb09a" stroke="#8fb09a" stroke-width="0.5"/>
<circle cx="189" cy="327.93" r="1.45" fill="#8fb09a" stroke="#8fb09a" stroke-width="0.5"/>
<circle cx="190.8" cy="326.06" r="1.45" fill="#8fb09a" stroke="#8fb09a" stroke-width="0.5"/>
<circle cx="182.4" cy="333.53" r="1.4" fill="none" stroke="#6a9f98" stroke-width="0.7"/>
<circle cx="184.2" cy="332.28" r="1.4" fill="none" stroke="#6a9f98" stroke-width="0.7"/>
<circle cx="186" cy="331.04" r="1.4" fill="none" stroke="#6a9f98" stroke-width="0.7"/>
<circle cx="187.8" cy="328.55" r="1.4" fill="none" stroke="#6a9f98" stroke-width="0.7"/>
<circle cx="189" cy="327.93" r="1.4" fill="none" stroke="#6a9f98" stroke-width="0.7"/>
<circle cx="190.8" cy="326.06" r="1.4" fill="none" stroke="#6a9f98" stroke-width="0.7"/>
<circle cx="263.81" cy="369.6" r="1.4" fill="none" stroke="#23a0dc" stroke-width="0.7"/>
<circle cx="265.34" cy="367.74" r="1.4" fill="none" stroke="#23a0dc" stroke-width="0.7"/>
<circle cx="267.17" cy="367.12" r="1.4" fill="none" stroke="#23a0dc" stroke-width="0.7"/>
<circle cx="269.62" cy="365.25" r="1.4" fill="none" stroke="#23a0dc" stroke-width="0.7"/>
<circle cx="276.22" cy="363.2" r="1.4" fill="none" stroke="#23a0dc" stroke-width="0.7"/>
<circle cx="272.49" cy="358.91" r="1.4" fill="none" stroke="#23a0dc" stroke-width="0.7"/>
<circle cx="273.89" cy="355.3" r="1.4" fill="none" stroke="#23a0dc" stroke-width="0.7"/>
<circle cx="272.67" cy="352.81" r="1.4" fill="none" stroke="#23a0dc" stroke-width="0.7"/>
<circle cx="274.5" cy="350.94" r="1.4" fill="none" stroke="#23a0dc" stroke-width="0.7"/>
<circle cx="276.34" cy="349.7" r="1.4" fill="none" stroke="#23a0dc" stroke-width="0.7"/>
<circle cx="278.17" cy="348.46" r="1.4" fill="none" stroke="#23a0dc" stroke-width="0.7"/>
<circle cx="280.62" cy="358.91" r="1.4" fill="none" stroke="#23a0dc" stroke-width="0.7"/>
<circle cx="282.81" cy="353.68" r="1.4" fill="none" stroke="#23a0dc" stroke-width="0.7"/>
<circle cx="284.22" cy="345.72" r="1.4" fill="none" stroke="#23a0dc" stroke-width="0.7"/>
<circle cx="288.56" cy="350.32" r="1.4" fill="none" stroke="#23a0dc" stroke-width="0.7"/>
<circle cx="290.39" cy="348.46" r="1.4" fill="none" stroke="#23a0dc" stroke-width="0.7"/>
<circle cx="291.61" cy="347.21" r="1.4" fill="none" stroke="#23a0dc" stroke-width="0.7"/>
<circle cx="290.02" cy="344.23" r="1.4" fill="none" stroke="#23a0dc" stroke-width="0.7"/>
<circle cx="292.83" cy="344.1" r="1.4" fill="none" stroke="#23a0dc" stroke-width="0.7"/>
<circle cx="294.67" cy="341.61" r="1.4" fill="none" stroke="#23a0dc" stroke-width="0.7"/>
<circle cx="295.89" cy="339.75" r="1.4" fill="none" stroke="#23a0dc" stroke-width="0.7"/>
<circle cx="292.22" cy="336.89" r="1.4" fill="none" stroke="#23a0dc" stroke-width="0.7"/>
<circle cx="298.94" cy="334.15" r="1.4" fill="none" stroke="#23a0dc" stroke-width="0.7"/>
<circle cx="297.72" cy="331.04" r="1.4" fill="none" stroke="#23a0dc" stroke-width="0.7"/>
<circle cx="299.56" cy="328.55" r="1.4" fill="none" stroke="#23a0dc" stroke-width="0.7"/>
<circle cx="300.17" cy="326.69" r="1.4" fill="none" stroke="#23a0dc" stroke-width="0.7"/>
<circle cx="301.02" cy="320.78" r="1.4" fill="none" stroke="#23a0dc" stroke-width="0.7"/>
<circle cx="256.18" cy="364.63" r="1.45" fill="#f39a1c" stroke="#f39a1c" stroke-width="0.5"/>
<circle cx="258.01" cy="363.38" r="1.45" fill="#f39a1c" stroke="#f39a1c" stroke-width="0.5"/>
<circle cx="273.28" cy="347.21" r="1.45" fill="#f39a1c" stroke="#f39a1c" stroke-width="0.5"/>
<circle cx="275.12" cy="345.35" r="1.45" fill="#f39a1c" stroke="#f39a1c" stroke-width="0.5"/>
<circle cx="276.95" cy="342.86" r="1.45" fill="#f39a1c" stroke="#f39a1c" stroke-width="0.5"/>
<circle cx="278.78" cy="341.61" r="1.45" fill="#f39a1c" stroke="#f39a1c" stroke-width="0.5"/>
<circle cx="280.62" cy="339.75" r="1.45" fill="#f39a1c" stroke="#f39a1c" stroke-width="0.5"/>
<circle cx="282.45" cy="337.88" r="1.45" fill="#f39a1c" stroke="#f39a1c" stroke-width="0.5"/>
<circle cx="284.28" cy="336.64" r="1.45" fill="#f39a1c" stroke="#f39a1c" stroke-width="0.5"/>
<circle cx="288.56" cy="332.28" r="1.45" fill="#f39a1c" stroke="#f39a1c" stroke-width="0.5"/>
<circle cx="290.39" cy="330.42" r="1.45" fill="#f39a1c" stroke="#f39a1c" stroke-width="0.5"/>
<circle cx="292.22" cy="327.93" r="1.45" fill="#f39a1c" stroke="#f39a1c" stroke-width="0.5"/>
<circle cx="294.06" cy="326.06" r="1.45" fill="#f39a1c" stroke="#f39a1c" stroke-width="0.5"/>
<circle cx="295.89" cy="324.82" r="1.45" fill="#f39a1c" stroke="#f39a1c" stroke-width="0.5"/>
<circle cx="297.72" cy="322.95" r="1.45" fill="#f39a1c" stroke="#f39a1c" stroke-width="0.5"/>
<circle cx="299.56" cy="321.09" r="1.45" fill="#f39a1c" stroke="#f39a1c" stroke-width="0.5"/>
<circle cx="293.2" cy="363.2" r="1.0" fill="none" stroke="#e6a060" stroke-width="0.7"/>
<text x="297.2" y="365.1" font-size="5.2" text-anchor="start" fill="#333" textLength="17.9" lengthAdjust="spacingAndGlyphs" font-style="italic">HBG1/2</text>
<circle cx="293" cy="371.4" r="1.0" fill="none" stroke="#5ab0dc" stroke-width="0.7"/>
<text x="297.2" y="373.3" font-size="5.2" text-anchor="start" fill="#333" textLength="18.3" lengthAdjust="spacingAndGlyphs" font-style="italic">BCL11A</text>
<text x="325.9" y="304.7" font-size="10.6" font-weight="bold" fill="#111" stroke="#111" stroke-width="0.35" textLength="7.0" lengthAdjust="spacingAndGlyphs">G</text>
<line x1="357.5" y1="317" x2="357.5" y2="381.5" stroke="#1c1c1c" stroke-width="1.25"/>
<line x1="354.8" y1="381" x2="357.5" y2="381" stroke="#1c1c1c" stroke-width="1.25"/>
<text x="351.5" y="383" font-size="5.6" text-anchor="end" fill="#2e2e2e" stroke="#2e2e2e" stroke-width="0.12">0.0</text>
<line x1="354.8" y1="365.6" x2="357.5" y2="365.6" stroke="#1c1c1c" stroke-width="1.25"/>
<text x="351.5" y="367.6" font-size="5.6" text-anchor="end" fill="#2e2e2e" stroke="#2e2e2e" stroke-width="0.12">0.5</text>
<line x1="354.8" y1="350.2" x2="357.5" y2="350.2" stroke="#1c1c1c" stroke-width="1.25"/>
<text x="351.5" y="352.2" font-size="5.6" text-anchor="end" fill="#2e2e2e" stroke="#2e2e2e" stroke-width="0.12">1.0</text>
<line x1="354.8" y1="334.8" x2="357.5" y2="334.8" stroke="#1c1c1c" stroke-width="1.25"/>
<text x="351.5" y="336.8" font-size="5.6" text-anchor="end" fill="#2e2e2e" stroke="#2e2e2e" stroke-width="0.12">1.5</text>
<line x1="354.8" y1="319.4" x2="357.5" y2="319.4" stroke="#1c1c1c" stroke-width="1.25"/>
<text x="351.5" y="321.4" font-size="5.6" text-anchor="end" fill="#2e2e2e" stroke="#2e2e2e" stroke-width="0.12">2.0</text>
<line x1="356" y1="381" x2="454" y2="381" stroke="#1c1c1c" stroke-width="1.25"/>
<line x1="357.5" y1="381" x2="357.5" y2="383.5" stroke="#1c1c1c" stroke-width="1.25"/>
<line x1="376.38" y1="381" x2="376.38" y2="383.5" stroke="#1c1c1c" stroke-width="1.25"/>
<line x1="395.26" y1="381" x2="395.26" y2="383.5" stroke="#1c1c1c" stroke-width="1.25"/>
<line x1="414.14" y1="381" x2="414.14" y2="383.5" stroke="#1c1c1c" stroke-width="1.25"/>
<line x1="433.02" y1="381" x2="433.02" y2="383.5" stroke="#1c1c1c" stroke-width="1.25"/>
<line x1="451.9" y1="381" x2="451.9" y2="383.5" stroke="#1c1c1c" stroke-width="1.25"/>
<text x="357.5" y="392" font-size="5.6" text-anchor="middle" fill="#2e2e2e" >0</text>
<text x="376.38" y="392" font-size="5.6" text-anchor="middle" fill="#2e2e2e" >20</text>
<text x="395.26" y="392" font-size="5.6" text-anchor="middle" fill="#2e2e2e" >40</text>
<text x="414.14" y="392" font-size="5.6" text-anchor="middle" fill="#2e2e2e" >60</text>
<text x="433.02" y="392" font-size="5.6" text-anchor="middle" fill="#2e2e2e" >80</text>
<text x="451.9" y="392" font-size="5.6" text-anchor="middle" fill="#2e2e2e" >100</text>
<text transform="translate(337.06,348.7) rotate(-90)" x="0" y="0" font-size="6.8" font-weight="bold" text-anchor="middle" fill="#222" textLength="69.6" lengthAdjust="spacingAndGlyphs">Normalized erythroid output</text>
<text x="406" y="403.3" font-size="6.8" font-weight="bold" text-anchor="middle" fill="#222" textLength="39.3" lengthAdjust="spacingAndGlyphs">HSPC indel (%)</text>
<line x1="357.5" y1="351.07" x2="451.9" y2="350.38" stroke="#f6b46a" stroke-width="0.8"/>
<line x1="357.5" y1="350.14" x2="451.9" y2="372.76" stroke="#6cc0ea" stroke-width="0.8"/>
<circle cx="358.3" cy="365.6" r="1.25" fill="#5ab8e6" stroke="#23a0dc" stroke-width="0.6"/>
<circle cx="359.5" cy="363.75" r="1.25" fill="#5ab8e6" stroke="#23a0dc" stroke-width="0.6"/>
<circle cx="358" cy="361.9" r="1.25" fill="#5ab8e6" stroke="#23a0dc" stroke-width="0.6"/>
<circle cx="359.2" cy="360.06" r="1.25" fill="#5ab8e6" stroke="#23a0dc" stroke-width="0.6"/>
<circle cx="358.6" cy="358.21" r="1.25" fill="#5ab8e6" stroke="#23a0dc" stroke-width="0.6"/>
<circle cx="359.7" cy="356.36" r="1.25" fill="#5ab8e6" stroke="#23a0dc" stroke-width="0.6"/>
<circle cx="358.1" cy="354.51" r="1.25" fill="#5ab8e6" stroke="#23a0dc" stroke-width="0.6"/>
<circle cx="359.1" cy="352.66" r="1.25" fill="#5ab8e6" stroke="#23a0dc" stroke-width="0.6"/>
<circle cx="358.3" cy="350.82" r="1.25" fill="#5ab8e6" stroke="#23a0dc" stroke-width="0.6"/>
<circle cx="359.5" cy="348.97" r="1.25" fill="#5ab8e6" stroke="#23a0dc" stroke-width="0.6"/>
<circle cx="358" cy="347.12" r="1.25" fill="#5ab8e6" stroke="#23a0dc" stroke-width="0.6"/>
<circle cx="359.2" cy="345.27" r="1.25" fill="#5ab8e6" stroke="#23a0dc" stroke-width="0.6"/>
<circle cx="358.6" cy="343.42" r="1.25" fill="#5ab8e6" stroke="#23a0dc" stroke-width="0.6"/>
<circle cx="359.7" cy="340.96" r="1.25" fill="#5ab8e6" stroke="#23a0dc" stroke-width="0.6"/>
<circle cx="358.1" cy="338.5" r="1.25" fill="#5ab8e6" stroke="#23a0dc" stroke-width="0.6"/>
<circle cx="359.1" cy="336.34" r="1.25" fill="#5ab8e6" stroke="#23a0dc" stroke-width="0.6"/>
<circle cx="385.16" cy="345.58" r="1.3" fill="none" stroke="#f39a1c" stroke-width="0.75"/>
<circle cx="381.01" cy="357.59" r="1.3" fill="none" stroke="#f39a1c" stroke-width="0.75"/>
<circle cx="384.5" cy="358.21" r="1.3" fill="none" stroke="#f39a1c" stroke-width="0.75"/>
<circle cx="405.64" cy="348.66" r="1.3" fill="none" stroke="#f39a1c" stroke-width="0.75"/>
<circle cx="408.19" cy="349.58" r="1.3" fill="none" stroke="#f39a1c" stroke-width="0.75"/>
<circle cx="410.84" cy="350.2" r="1.3" fill="none" stroke="#f39a1c" stroke-width="0.75"/>
<circle cx="413.48" cy="356.36" r="1.3" fill="none" stroke="#f39a1c" stroke-width="0.75"/>
<circle cx="410.84" cy="365.29" r="1.3" fill="none" stroke="#f39a1c" stroke-width="0.75"/>
<circle cx="416.03" cy="359.44" r="1.3" fill="none" stroke="#f39a1c" stroke-width="0.75"/>
<circle cx="431.04" cy="327.41" r="1.3" fill="none" stroke="#f39a1c" stroke-width="0.75"/>
<circle cx="431.6" cy="340.96" r="1.3" fill="none" stroke="#f39a1c" stroke-width="0.75"/>
<circle cx="434.62" cy="346.5" r="1.3" fill="none" stroke="#f39a1c" stroke-width="0.75"/>
<circle cx="429.62" cy="348.66" r="1.3" fill="none" stroke="#f39a1c" stroke-width="0.75"/>
<circle cx="437.74" cy="354.51" r="1.3" fill="none" stroke="#f39a1c" stroke-width="0.75"/>
<circle cx="431.6" cy="367.76" r="1.3" fill="none" stroke="#f39a1c" stroke-width="0.75"/>
<circle cx="436.14" cy="367.76" r="1.3" fill="none" stroke="#f39a1c" stroke-width="0.75"/>
<circle cx="444.25" cy="348.66" r="1.3" fill="none" stroke="#f39a1c" stroke-width="0.75"/>
<circle cx="450.77" cy="342.5" r="1.3" fill="none" stroke="#f39a1c" stroke-width="0.75"/>
<circle cx="450.77" cy="344.66" r="1.3" fill="none" stroke="#f39a1c" stroke-width="0.75"/>
<circle cx="450.77" cy="347.12" r="1.3" fill="none" stroke="#f39a1c" stroke-width="0.75"/>
<circle cx="450.77" cy="350.2" r="1.3" fill="none" stroke="#f39a1c" stroke-width="0.75"/>
<circle cx="450.77" cy="354.2" r="1.3" fill="none" stroke="#f39a1c" stroke-width="0.75"/>
<circle cx="431.04" cy="327.41" r="1.5" fill="#f6c890" stroke="#eeb070" stroke-width="0.6"/>
<circle cx="402.06" cy="348.04" r="1.3" fill="none" stroke="#23a0dc" stroke-width="0.75"/>
<circle cx="406.12" cy="348.04" r="1.3" fill="none" stroke="#23a0dc" stroke-width="0.75"/>
<circle cx="393.28" cy="360.06" r="1.3" fill="none" stroke="#23a0dc" stroke-width="0.75"/>
<circle cx="397.71" cy="363.75" r="1.3" fill="none" stroke="#23a0dc" stroke-width="0.75"/>
<circle cx="395.64" cy="372.38" r="1.3" fill="none" stroke="#23a0dc" stroke-width="0.75"/>
<circle cx="412.91" cy="371.45" r="1.3" fill="none" stroke="#23a0dc" stroke-width="0.75"/>
<circle cx="415.08" cy="364.06" r="1.3" fill="none" stroke="#23a0dc" stroke-width="0.75"/>
<circle cx="416.03" cy="365.6" r="1.3" fill="none" stroke="#23a0dc" stroke-width="0.75"/>
<circle cx="417.92" cy="366.52" r="1.3" fill="none" stroke="#23a0dc" stroke-width="0.75"/>
<circle cx="419.8" cy="361.9" r="1.3" fill="none" stroke="#23a0dc" stroke-width="0.75"/>
<circle cx="421.69" cy="361.6" r="1.3" fill="none" stroke="#23a0dc" stroke-width="0.75"/>
<circle cx="420.75" cy="365.6" r="1.3" fill="none" stroke="#23a0dc" stroke-width="0.75"/>
<circle cx="416.97" cy="367.14" r="1.3" fill="none" stroke="#23a0dc" stroke-width="0.75"/>
<circle cx="424.05" cy="370.84" r="1.3" fill="none" stroke="#23a0dc" stroke-width="0.75"/>
<circle cx="428.49" cy="361.29" r="1.3" fill="none" stroke="#23a0dc" stroke-width="0.75"/>
<circle cx="433.02" cy="372.38" r="1.3" fill="none" stroke="#23a0dc" stroke-width="0.75"/>
<circle cx="431.6" cy="379.77" r="1.3" fill="none" stroke="#23a0dc" stroke-width="0.75"/>
<circle cx="437.17" cy="379.15" r="1.3" fill="none" stroke="#23a0dc" stroke-width="0.75"/>
<circle cx="439.16" cy="373.3" r="1.3" fill="none" stroke="#23a0dc" stroke-width="0.75"/>
<circle cx="443.78" cy="362.52" r="1.3" fill="none" stroke="#23a0dc" stroke-width="0.75"/>
<circle cx="445.29" cy="366.22" r="1.3" fill="none" stroke="#23a0dc" stroke-width="0.75"/>
<circle cx="447.18" cy="367.76" r="1.3" fill="none" stroke="#23a0dc" stroke-width="0.75"/>
<circle cx="449.07" cy="365.6" r="1.3" fill="none" stroke="#23a0dc" stroke-width="0.75"/>
<circle cx="446.24" cy="369.3" r="1.3" fill="none" stroke="#23a0dc" stroke-width="0.75"/>
<circle cx="445.95" cy="379.15" r="1.3" fill="none" stroke="#23a0dc" stroke-width="0.75"/>
<circle cx="450.3" cy="375.46" r="1.3" fill="none" stroke="#23a0dc" stroke-width="0.75"/>
<circle cx="451.9" cy="379.15" r="1.3" fill="none" stroke="#23a0dc" stroke-width="0.75"/>
<circle cx="440.57" cy="368.06" r="1.3" fill="none" stroke="#23a0dc" stroke-width="0.75"/>
<line x1="466.2" y1="325.1" x2="471.5" y2="325.1" stroke="#f5b26a" stroke-width="0.8"/>
<circle cx="468.8" cy="325.1" r="1.2" fill="#f7c27e" stroke="#f0a050" stroke-width="0.6"/>
<text x="475.8" y="326.9" font-size="5.1" text-anchor="start" fill="#333" textLength="18.4" lengthAdjust="spacingAndGlyphs" font-style="italic">HBG1/2</text>
<line x1="466.2" y1="332.2" x2="471.5" y2="332.2" stroke="#6cc0ea" stroke-width="0.8"/>
<circle cx="469" cy="332.2" r="1.2" fill="#8fd0f0" stroke="#4ab0e4" stroke-width="0.6"/>
<text x="475.8" y="334.5" font-size="5.1" text-anchor="start" fill="#333" textLength="18.8" lengthAdjust="spacingAndGlyphs" font-style="italic">BCL11A</text>
<text x="458.1" y="349.3" font-size="4.9" text-anchor="start" fill="#f3a94f" textLength="57" lengthAdjust="spacingAndGlyphs" >Y = 0.00022725X+0.9716</text>
<text x="458.1" y="355.4" font-size="4.9" text-anchor="start" fill="#f3a94f" textLength="22" lengthAdjust="spacingAndGlyphs" ><tspan font-style="italic">P</tspan> = .8251</text>
<text x="458.1" y="371.5" font-size="4.9" text-anchor="start" fill="#4bb3e6" textLength="52.8" lengthAdjust="spacingAndGlyphs" >Y = -0.007344X+1.002</text>
<text x="458.1" y="376.8" font-size="4.9" text-anchor="start" fill="#4bb3e6" textLength="22" lengthAdjust="spacingAndGlyphs" ><tspan font-style="italic">P</tspan> &lt; .0001</text>
<rect x="0.5" y="0.5" width="519" height="410" fill="none" stroke="#6b6b6b" stroke-width="1"/>
</svg>
</body></html>
